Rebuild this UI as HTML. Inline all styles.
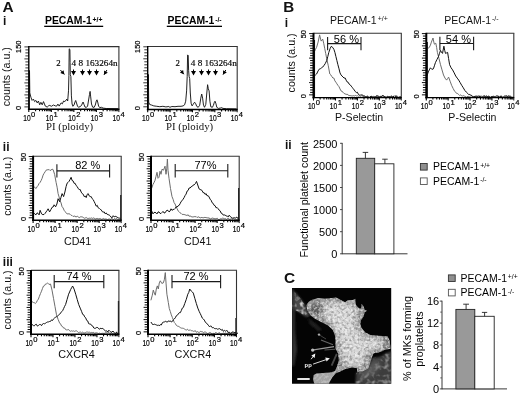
<!DOCTYPE html>
<html lang="en"><head><meta charset="utf-8"><title>PECAM-1 figure</title>
<style>html,body{margin:0;padding:0;background:#fff;}body{width:520px;height:394px;overflow:hidden;}svg{display:block;}.s{font-family:"Liberation Sans", Arial, Helvetica, sans-serif;}.r{font-family:"Liberation Serif", "Times New Roman", serif;}</style></head><body>
<svg width="520" height="394" viewBox="0 0 520 394">
<rect width="520" height="394" fill="#fff"/>
<text class="s" x="2.6" y="11.6" font-size="15.4" text-anchor="start" fill="#111" font-weight="bold">A</text>
<text class="s" x="3.0" y="24.5" font-size="12" text-anchor="start" fill="#111" font-weight="bold">i</text>
<text class="s" x="2.8" y="151.1" font-size="12" text-anchor="start" fill="#111" font-weight="bold">ii</text>
<text class="s" x="2.8" y="265.6" font-size="12" text-anchor="start" fill="#111" font-weight="bold">iii</text>
<text class="s" x="283.2" y="12.2" font-size="15.2" text-anchor="start" fill="#111" font-weight="bold">B</text>
<text class="s" x="284.8" y="26.7" font-size="12" text-anchor="start" fill="#111" font-weight="bold">i</text>
<text class="s" x="285.0" y="148.8" font-size="12" text-anchor="start" fill="#111" font-weight="bold">ii</text>
<text class="s" x="284.0" y="282.9" font-size="15.4" text-anchor="start" fill="#111" font-weight="bold">C</text>
<text class="s" x="45.0" y="24.4" font-size="10.4" font-weight="bold" fill="#000">PECAM-1<tspan font-size="6.9" dx="0.8" dy="-2.5">+/+</tspan></text>
<rect x="44.2" y="25.7" width="59.0" height="1.3" fill="#000"/>
<text class="s" x="167.6" y="24.4" font-size="10.4" font-weight="bold" fill="#000">PECAM-1<tspan font-size="6.9" dx="0.8" dy="-2.5">-/-</tspan></text>
<rect x="166.79999999999998" y="25.7" width="55.2" height="1.3" fill="#000"/>
<text class="s" x="330" y="23.8" font-size="10.5" fill="#111">PECAM-1<tspan font-size="7" dx="1.0" dy="-3.2">+/+</tspan></text>
<text class="s" x="444.3" y="23.8" font-size="10.5" fill="#111">PECAM-1<tspan font-size="7" dx="1.0" dy="-3.2">-/-</tspan></text>
<polyline points="29.4,109.1 29.5,70.5 29.8,92.9 30.9,97.2 32.1,100.4 33.4,99.1 34.6,101.6 35.9,100.4 37.2,102.9 38.4,101.0 39.7,104.8 40.9,102.3 42.2,104.8 43.5,101.6 45.3,106.1 47.2,107.1 48.8,105.6 49.8,105.4 51.3,106.3 53.5,105.0 55.3,105.9 56.7,106.1 57.9,104.1 59.2,106.1 61.1,102.9 62.4,103.8 63.6,101.0 64.9,101.6 66.8,99.1 67.7,101.0 68.5,90.8 68.9,75.6 69.2,48.8 69.9,49.4 70.1,62.4 70.3,74.6 70.9,76.6 71.4,95.9 72.1,104.0 72.9,106.3 74.0,105.0 75.0,102.0 75.7,100.5 76.5,103.0 77.5,106.1 78.5,107.3 80.0,106.6 81.5,105.5 82.5,103.0 83.1,102.0 84.0,104.5 85.0,107.1 86.5,107.3 87.6,106.1 88.6,100.0 89.5,94.4 90.1,91.4 90.7,96.9 91.5,104.0 92.6,107.1 94.1,107.4 95.3,105.0 96.3,101.0 97.0,99.8 97.7,102.0 98.6,106.1 99.7,107.6 101.4,107.3 103.2,108.1 106.2,108.5 118.3,108.7" fill="none" stroke="#161616" stroke-width="0.95" stroke-linejoin="round"/>
<line x1="28.8" y1="46.6" x2="119.4" y2="46.6" stroke="#333" stroke-width="1.1"/>
<line x1="118.9" y1="46.6" x2="118.9" y2="109.2" stroke="#333" stroke-width="1.1"/>
<line x1="28.8" y1="46.1" x2="28.8" y2="110.0" stroke="#000" stroke-width="1.4"/>
<line x1="27.900000000000002" y1="109.2" x2="119.4" y2="109.2" stroke="#000" stroke-width="1.45"/>
<line x1="24.4" y1="46.9" x2="28.8" y2="46.9" stroke="#000" stroke-width="0.8"/>
<line x1="25.4" y1="49.9" x2="28.8" y2="49.9" stroke="#000" stroke-width="0.8"/>
<line x1="25.4" y1="52.9" x2="28.8" y2="52.9" stroke="#000" stroke-width="0.8"/>
<line x1="25.4" y1="55.9" x2="28.8" y2="55.9" stroke="#000" stroke-width="0.8"/>
<line x1="24.4" y1="58.9" x2="28.8" y2="58.9" stroke="#000" stroke-width="0.8"/>
<line x1="25.4" y1="61.9" x2="28.8" y2="61.9" stroke="#000" stroke-width="0.8"/>
<line x1="25.4" y1="64.9" x2="28.8" y2="64.9" stroke="#000" stroke-width="0.8"/>
<line x1="25.4" y1="67.9" x2="28.8" y2="67.9" stroke="#000" stroke-width="0.8"/>
<line x1="24.4" y1="70.9" x2="28.8" y2="70.9" stroke="#000" stroke-width="0.8"/>
<line x1="25.4" y1="73.9" x2="28.8" y2="73.9" stroke="#000" stroke-width="0.8"/>
<line x1="25.4" y1="76.9" x2="28.8" y2="76.9" stroke="#000" stroke-width="0.8"/>
<line x1="25.4" y1="79.9" x2="28.8" y2="79.9" stroke="#000" stroke-width="0.8"/>
<line x1="24.4" y1="82.9" x2="28.8" y2="82.9" stroke="#000" stroke-width="0.8"/>
<line x1="25.4" y1="85.9" x2="28.8" y2="85.9" stroke="#000" stroke-width="0.8"/>
<line x1="25.4" y1="88.9" x2="28.8" y2="88.9" stroke="#000" stroke-width="0.8"/>
<line x1="25.4" y1="91.9" x2="28.8" y2="91.9" stroke="#000" stroke-width="0.8"/>
<line x1="24.4" y1="94.9" x2="28.8" y2="94.9" stroke="#000" stroke-width="0.8"/>
<line x1="25.4" y1="97.9" x2="28.8" y2="97.9" stroke="#000" stroke-width="0.8"/>
<line x1="25.4" y1="100.9" x2="28.8" y2="100.9" stroke="#000" stroke-width="0.8"/>
<line x1="25.4" y1="103.9" x2="28.8" y2="103.9" stroke="#000" stroke-width="0.8"/>
<line x1="24.4" y1="106.9" x2="28.8" y2="106.9" stroke="#000" stroke-width="0.8"/>
<line x1="28.8" y1="109.2" x2="28.8" y2="112.1" stroke="#000" stroke-width="1.1"/>
<line x1="35.58" y1="109.2" x2="35.58" y2="111.2" stroke="#000" stroke-width="1.1"/>
<line x1="39.55" y1="109.2" x2="39.55" y2="111.2" stroke="#000" stroke-width="1.1"/>
<line x1="42.36" y1="109.2" x2="42.36" y2="111.2" stroke="#000" stroke-width="1.1"/>
<line x1="44.54" y1="109.2" x2="44.54" y2="111.2" stroke="#000" stroke-width="1.1"/>
<line x1="46.33" y1="109.2" x2="46.33" y2="111.2" stroke="#000" stroke-width="1.1"/>
<line x1="47.84" y1="109.2" x2="47.84" y2="111.2" stroke="#000" stroke-width="1.1"/>
<line x1="49.14" y1="109.2" x2="49.14" y2="111.2" stroke="#000" stroke-width="1.1"/>
<line x1="50.29" y1="109.2" x2="50.29" y2="111.2" stroke="#000" stroke-width="1.1"/>
<line x1="51.33" y1="109.2" x2="51.33" y2="112.1" stroke="#000" stroke-width="1.1"/>
<line x1="58.11" y1="109.2" x2="58.11" y2="111.2" stroke="#000" stroke-width="1.1"/>
<line x1="62.07" y1="109.2" x2="62.07" y2="111.2" stroke="#000" stroke-width="1.1"/>
<line x1="64.89" y1="109.2" x2="64.89" y2="111.2" stroke="#000" stroke-width="1.1"/>
<line x1="67.07" y1="109.2" x2="67.07" y2="111.2" stroke="#000" stroke-width="1.1"/>
<line x1="68.85" y1="109.2" x2="68.85" y2="111.2" stroke="#000" stroke-width="1.1"/>
<line x1="70.36" y1="109.2" x2="70.36" y2="111.2" stroke="#000" stroke-width="1.1"/>
<line x1="71.67" y1="109.2" x2="71.67" y2="111.2" stroke="#000" stroke-width="1.1"/>
<line x1="72.82" y1="109.2" x2="72.82" y2="111.2" stroke="#000" stroke-width="1.1"/>
<line x1="73.85" y1="109.2" x2="73.85" y2="112.1" stroke="#000" stroke-width="1.1"/>
<line x1="80.63" y1="109.2" x2="80.63" y2="111.2" stroke="#000" stroke-width="1.1"/>
<line x1="84.6" y1="109.2" x2="84.6" y2="111.2" stroke="#000" stroke-width="1.1"/>
<line x1="87.41" y1="109.2" x2="87.41" y2="111.2" stroke="#000" stroke-width="1.1"/>
<line x1="89.59" y1="109.2" x2="89.59" y2="111.2" stroke="#000" stroke-width="1.1"/>
<line x1="91.38" y1="109.2" x2="91.38" y2="111.2" stroke="#000" stroke-width="1.1"/>
<line x1="92.89" y1="109.2" x2="92.89" y2="111.2" stroke="#000" stroke-width="1.1"/>
<line x1="94.19" y1="109.2" x2="94.19" y2="111.2" stroke="#000" stroke-width="1.1"/>
<line x1="95.34" y1="109.2" x2="95.34" y2="111.2" stroke="#000" stroke-width="1.1"/>
<line x1="96.38" y1="109.2" x2="96.38" y2="112.1" stroke="#000" stroke-width="1.1"/>
<line x1="103.16" y1="109.2" x2="103.16" y2="111.2" stroke="#000" stroke-width="1.1"/>
<line x1="107.12" y1="109.2" x2="107.12" y2="111.2" stroke="#000" stroke-width="1.1"/>
<line x1="109.94" y1="109.2" x2="109.94" y2="111.2" stroke="#000" stroke-width="1.1"/>
<line x1="112.12" y1="109.2" x2="112.12" y2="111.2" stroke="#000" stroke-width="1.1"/>
<line x1="113.9" y1="109.2" x2="113.9" y2="111.2" stroke="#000" stroke-width="1.1"/>
<line x1="115.41" y1="109.2" x2="115.41" y2="111.2" stroke="#000" stroke-width="1.1"/>
<line x1="116.72" y1="109.2" x2="116.72" y2="111.2" stroke="#000" stroke-width="1.1"/>
<line x1="117.87" y1="109.2" x2="117.87" y2="111.2" stroke="#000" stroke-width="1.1"/>
<line x1="118.9" y1="109.2" x2="118.9" y2="112.1" stroke="#000" stroke-width="0.9"/>
<text class="s" x="23.2" y="120.7" font-size="8.8" text-anchor="start" fill="#000" stroke="#000" stroke-width="0.2" textLength="7.4" lengthAdjust="spacingAndGlyphs">10</text>
<text class="s" x="31.1" y="117.0" font-size="7.6" text-anchor="start" fill="#000" stroke="#000" stroke-width="0.2">0</text>
<text class="s" x="45.7" y="120.7" font-size="8.8" text-anchor="start" fill="#000" stroke="#000" stroke-width="0.2" textLength="7.4" lengthAdjust="spacingAndGlyphs">10</text>
<text class="s" x="53.6" y="117.0" font-size="7.6" text-anchor="start" fill="#000" stroke="#000" stroke-width="0.2">1</text>
<text class="s" x="68.3" y="120.7" font-size="8.8" text-anchor="start" fill="#000" stroke="#000" stroke-width="0.2" textLength="7.4" lengthAdjust="spacingAndGlyphs">10</text>
<text class="s" x="76.2" y="117.0" font-size="7.6" text-anchor="start" fill="#000" stroke="#000" stroke-width="0.2">2</text>
<text class="s" x="90.8" y="120.7" font-size="8.8" text-anchor="start" fill="#000" stroke="#000" stroke-width="0.2" textLength="7.4" lengthAdjust="spacingAndGlyphs">10</text>
<text class="s" x="98.7" y="117.0" font-size="7.6" text-anchor="start" fill="#000" stroke="#000" stroke-width="0.2">3</text>
<text class="s" x="112.5" y="120.7" font-size="8.8" text-anchor="start" fill="#000" stroke="#000" stroke-width="0.2" textLength="7.4" lengthAdjust="spacingAndGlyphs">10</text>
<text class="s" x="120.4" y="117.0" font-size="7.6" text-anchor="start" fill="#000" stroke="#000" stroke-width="0.2">4</text>
<text class="s" x="20.8" y="46.8" font-size="7.4" text-anchor="middle" fill="#000" transform="rotate(-90 20.8 46.8)" stroke="#000" stroke-width="0.2">150</text>
<text class="s" x="20.8" y="107.9" font-size="7.4" text-anchor="middle" fill="#000" transform="rotate(-90 20.8 107.9)" stroke="#000" stroke-width="0.2">0</text>
<text class="r" x="56.2" y="66.3" font-size="8.8" fill="#000" stroke="#000" stroke-width="0.15">2</text>
<text class="r" x="71.6" y="66.3" font-size="8.8" fill="#000" stroke="#000" stroke-width="0.15" textLength="46" lengthAdjust="spacingAndGlyphs">4 8 163264n</text>
<line x1="60.4" y1="70" x2="64.4" y2="74.4" stroke="#000" stroke-width="1.0"/>
<polygon points="64.4,74.4 60.3,73.1 63.5,70.2" fill="#000"/>
<path d="M73.0 69.4h1v1.6h2.0L73.5 75.5L71.0 71.0h2.0z" fill="#000"/>
<path d="M82.0 69.4h1v1.6h2.0L82.5 75.5L80.0 71.0h2.0z" fill="#000"/>
<path d="M89.0 69.4h1v1.6h2.0L89.5 75.5L87.0 71.0h2.0z" fill="#000"/>
<path d="M96.0 69.4h1v1.6h2.0L96.5 75.5L94.0 71.0h2.0z" fill="#000"/>
<line x1="106.9" y1="70" x2="104" y2="74.8" stroke="#000" stroke-width="1.0"/>
<polygon points="104.0,74.8 104.1,70.5 107.8,72.7" fill="#000"/>
<text class="r" x="69.6" y="130.2" font-size="10.8" text-anchor="middle" fill="#111">PI (ploidy)</text>
<text class="s" x="10.2" y="76.7" font-size="10.7" text-anchor="middle" fill="#111" transform="rotate(-90 10.2 76.7)" textLength="59" lengthAdjust="spacingAndGlyphs">counts (a.u.)</text>
<polyline points="148.3,109.4 148.4,74.5 148.7,102.2 149.7,104.5 151.7,105.1 153.8,105.9 156.8,106.3 159.8,106.7 162.9,106.3 165.9,106.9 168.9,106.5 169.9,107.3 171.9,106.5 175.0,106.7 178.0,106.3 181.0,106.3 183.1,105.9 184.6,104.8 185.7,101.2 186.6,90.9 187.2,76.5 187.6,54.9 188.2,55.5 188.6,70.3 189.1,76.5 189.7,78.6 190.3,93.0 191.1,103.2 192.1,105.9 193.2,104.3 194.6,102.2 195.7,103.7 196.7,106.3 198.2,107.3 199.7,105.3 200.8,98.1 201.7,94.0 202.6,98.1 203.5,105.3 204.5,107.3 205.8,104.3 206.8,93.0 207.6,84.7 208.3,88.8 209.1,90.9 209.9,101.2 210.8,106.8 212.4,107.3 213.4,105.3 214.4,102.2 215.0,101.2 215.8,103.2 216.8,107.3 218.4,108.4 220.4,108.0 221.4,107.6 223.0,108.4 226.5,108.7 236.6,108.9" fill="none" stroke="#161616" stroke-width="0.95" stroke-linejoin="round"/>
<line x1="147.7" y1="46.5" x2="237.7" y2="46.5" stroke="#333" stroke-width="1.1"/>
<line x1="237.2" y1="46.5" x2="237.2" y2="109.4" stroke="#333" stroke-width="1.1"/>
<line x1="147.7" y1="46.0" x2="147.7" y2="110.2" stroke="#000" stroke-width="1.4"/>
<line x1="146.79999999999998" y1="109.4" x2="237.7" y2="109.4" stroke="#000" stroke-width="1.45"/>
<line x1="143.3" y1="46.8" x2="147.7" y2="46.8" stroke="#000" stroke-width="0.8"/>
<line x1="144.3" y1="49.8" x2="147.7" y2="49.8" stroke="#000" stroke-width="0.8"/>
<line x1="144.3" y1="52.8" x2="147.7" y2="52.8" stroke="#000" stroke-width="0.8"/>
<line x1="144.3" y1="55.8" x2="147.7" y2="55.8" stroke="#000" stroke-width="0.8"/>
<line x1="143.3" y1="58.8" x2="147.7" y2="58.8" stroke="#000" stroke-width="0.8"/>
<line x1="144.3" y1="61.8" x2="147.7" y2="61.8" stroke="#000" stroke-width="0.8"/>
<line x1="144.3" y1="64.8" x2="147.7" y2="64.8" stroke="#000" stroke-width="0.8"/>
<line x1="144.3" y1="67.8" x2="147.7" y2="67.8" stroke="#000" stroke-width="0.8"/>
<line x1="143.3" y1="70.8" x2="147.7" y2="70.8" stroke="#000" stroke-width="0.8"/>
<line x1="144.3" y1="73.8" x2="147.7" y2="73.8" stroke="#000" stroke-width="0.8"/>
<line x1="144.3" y1="76.8" x2="147.7" y2="76.8" stroke="#000" stroke-width="0.8"/>
<line x1="144.3" y1="79.8" x2="147.7" y2="79.8" stroke="#000" stroke-width="0.8"/>
<line x1="143.3" y1="82.8" x2="147.7" y2="82.8" stroke="#000" stroke-width="0.8"/>
<line x1="144.3" y1="85.8" x2="147.7" y2="85.8" stroke="#000" stroke-width="0.8"/>
<line x1="144.3" y1="88.8" x2="147.7" y2="88.8" stroke="#000" stroke-width="0.8"/>
<line x1="144.3" y1="91.8" x2="147.7" y2="91.8" stroke="#000" stroke-width="0.8"/>
<line x1="143.3" y1="94.8" x2="147.7" y2="94.8" stroke="#000" stroke-width="0.8"/>
<line x1="144.3" y1="97.8" x2="147.7" y2="97.8" stroke="#000" stroke-width="0.8"/>
<line x1="144.3" y1="100.8" x2="147.7" y2="100.8" stroke="#000" stroke-width="0.8"/>
<line x1="144.3" y1="103.8" x2="147.7" y2="103.8" stroke="#000" stroke-width="0.8"/>
<line x1="143.3" y1="106.8" x2="147.7" y2="106.8" stroke="#000" stroke-width="0.8"/>
<line x1="147.7" y1="109.4" x2="147.7" y2="112.3" stroke="#000" stroke-width="1.1"/>
<line x1="154.44" y1="109.4" x2="154.44" y2="111.4" stroke="#000" stroke-width="1.1"/>
<line x1="158.38" y1="109.4" x2="158.38" y2="111.4" stroke="#000" stroke-width="1.1"/>
<line x1="161.17" y1="109.4" x2="161.17" y2="111.4" stroke="#000" stroke-width="1.1"/>
<line x1="163.34" y1="109.4" x2="163.34" y2="111.4" stroke="#000" stroke-width="1.1"/>
<line x1="165.11" y1="109.4" x2="165.11" y2="111.4" stroke="#000" stroke-width="1.1"/>
<line x1="166.61" y1="109.4" x2="166.61" y2="111.4" stroke="#000" stroke-width="1.1"/>
<line x1="167.91" y1="109.4" x2="167.91" y2="111.4" stroke="#000" stroke-width="1.1"/>
<line x1="169.05" y1="109.4" x2="169.05" y2="111.4" stroke="#000" stroke-width="1.1"/>
<line x1="170.07" y1="109.4" x2="170.07" y2="112.3" stroke="#000" stroke-width="1.1"/>
<line x1="176.81" y1="109.4" x2="176.81" y2="111.4" stroke="#000" stroke-width="1.1"/>
<line x1="180.75" y1="109.4" x2="180.75" y2="111.4" stroke="#000" stroke-width="1.1"/>
<line x1="183.55" y1="109.4" x2="183.55" y2="111.4" stroke="#000" stroke-width="1.1"/>
<line x1="185.71" y1="109.4" x2="185.71" y2="111.4" stroke="#000" stroke-width="1.1"/>
<line x1="187.49" y1="109.4" x2="187.49" y2="111.4" stroke="#000" stroke-width="1.1"/>
<line x1="188.98" y1="109.4" x2="188.98" y2="111.4" stroke="#000" stroke-width="1.1"/>
<line x1="190.28" y1="109.4" x2="190.28" y2="111.4" stroke="#000" stroke-width="1.1"/>
<line x1="191.43" y1="109.4" x2="191.43" y2="111.4" stroke="#000" stroke-width="1.1"/>
<line x1="192.45" y1="109.4" x2="192.45" y2="112.3" stroke="#000" stroke-width="1.1"/>
<line x1="199.19" y1="109.4" x2="199.19" y2="111.4" stroke="#000" stroke-width="1.1"/>
<line x1="203.13" y1="109.4" x2="203.13" y2="111.4" stroke="#000" stroke-width="1.1"/>
<line x1="205.92" y1="109.4" x2="205.92" y2="111.4" stroke="#000" stroke-width="1.1"/>
<line x1="208.09" y1="109.4" x2="208.09" y2="111.4" stroke="#000" stroke-width="1.1"/>
<line x1="209.86" y1="109.4" x2="209.86" y2="111.4" stroke="#000" stroke-width="1.1"/>
<line x1="211.36" y1="109.4" x2="211.36" y2="111.4" stroke="#000" stroke-width="1.1"/>
<line x1="212.66" y1="109.4" x2="212.66" y2="111.4" stroke="#000" stroke-width="1.1"/>
<line x1="213.8" y1="109.4" x2="213.8" y2="111.4" stroke="#000" stroke-width="1.1"/>
<line x1="214.82" y1="109.4" x2="214.82" y2="112.3" stroke="#000" stroke-width="1.1"/>
<line x1="221.56" y1="109.4" x2="221.56" y2="111.4" stroke="#000" stroke-width="1.1"/>
<line x1="225.5" y1="109.4" x2="225.5" y2="111.4" stroke="#000" stroke-width="1.1"/>
<line x1="228.3" y1="109.4" x2="228.3" y2="111.4" stroke="#000" stroke-width="1.1"/>
<line x1="230.46" y1="109.4" x2="230.46" y2="111.4" stroke="#000" stroke-width="1.1"/>
<line x1="232.24" y1="109.4" x2="232.24" y2="111.4" stroke="#000" stroke-width="1.1"/>
<line x1="233.73" y1="109.4" x2="233.73" y2="111.4" stroke="#000" stroke-width="1.1"/>
<line x1="235.03" y1="109.4" x2="235.03" y2="111.4" stroke="#000" stroke-width="1.1"/>
<line x1="236.18" y1="109.4" x2="236.18" y2="111.4" stroke="#000" stroke-width="1.1"/>
<line x1="237.2" y1="109.4" x2="237.2" y2="112.3" stroke="#000" stroke-width="0.9"/>
<text class="s" x="142.1" y="120.9" font-size="8.8" text-anchor="start" fill="#000" stroke="#000" stroke-width="0.2" textLength="7.4" lengthAdjust="spacingAndGlyphs">10</text>
<text class="s" x="150.0" y="117.2" font-size="7.6" text-anchor="start" fill="#000" stroke="#000" stroke-width="0.2">0</text>
<text class="s" x="164.5" y="120.9" font-size="8.8" text-anchor="start" fill="#000" stroke="#000" stroke-width="0.2" textLength="7.4" lengthAdjust="spacingAndGlyphs">10</text>
<text class="s" x="172.4" y="117.2" font-size="7.6" text-anchor="start" fill="#000" stroke="#000" stroke-width="0.2">1</text>
<text class="s" x="186.8" y="120.9" font-size="8.8" text-anchor="start" fill="#000" stroke="#000" stroke-width="0.2" textLength="7.4" lengthAdjust="spacingAndGlyphs">10</text>
<text class="s" x="194.8" y="117.2" font-size="7.6" text-anchor="start" fill="#000" stroke="#000" stroke-width="0.2">2</text>
<text class="s" x="209.2" y="120.9" font-size="8.8" text-anchor="start" fill="#000" stroke="#000" stroke-width="0.2" textLength="7.4" lengthAdjust="spacingAndGlyphs">10</text>
<text class="s" x="217.1" y="117.2" font-size="7.6" text-anchor="start" fill="#000" stroke="#000" stroke-width="0.2">3</text>
<text class="s" x="230.8" y="120.9" font-size="8.8" text-anchor="start" fill="#000" stroke="#000" stroke-width="0.2" textLength="7.4" lengthAdjust="spacingAndGlyphs">10</text>
<text class="s" x="238.7" y="117.2" font-size="7.6" text-anchor="start" fill="#000" stroke="#000" stroke-width="0.2">4</text>
<text class="s" x="139.7" y="46.7" font-size="7.4" text-anchor="middle" fill="#000" transform="rotate(-90 139.7 46.7)" stroke="#000" stroke-width="0.2">150</text>
<text class="s" x="139.7" y="108.1" font-size="7.4" text-anchor="middle" fill="#000" transform="rotate(-90 139.7 108.1)" stroke="#000" stroke-width="0.2">0</text>
<text class="r" x="175.6" y="66.3" font-size="8.8" fill="#000" stroke="#000" stroke-width="0.15">2</text>
<text class="r" x="190.8" y="66.3" font-size="8.8" fill="#000" stroke="#000" stroke-width="0.15" textLength="46" lengthAdjust="spacingAndGlyphs">4 8 163264n</text>
<line x1="180.4" y1="70" x2="183.8" y2="74.2" stroke="#000" stroke-width="1.0"/>
<polygon points="183.8,74.2 179.8,72.6 183.1,70.0" fill="#000"/>
<path d="M193.0 69.4h1v1.6h2.0L193.5 75.5L191.0 71.0h2.0z" fill="#000"/>
<path d="M201.0 69.4h1v1.6h2.0L201.5 75.5L199.0 71.0h2.0z" fill="#000"/>
<path d="M208.0 69.4h1v1.6h2.0L208.5 75.5L206.0 71.0h2.0z" fill="#000"/>
<path d="M215.0 69.4h1v1.6h2.0L215.5 75.5L213.0 71.0h2.0z" fill="#000"/>
<line x1="225.8" y1="70" x2="223" y2="74.6" stroke="#000" stroke-width="1.0"/>
<polygon points="223.0,74.6 223.1,70.3 226.8,72.5" fill="#000"/>
<text class="r" x="189.6" y="130.2" font-size="10.8" text-anchor="middle" fill="#111">PI (ploidy)</text>
<polyline points="33.7,186.5 35.1,187.7 36.1,188.5 37.1,186.7 38.1,185.5 39.1,183.4 40.1,182.4 41.1,180.6 42.1,178.3 43.1,175.1 44.1,173.3 45.1,171.8 46.1,170.2 47.1,169.8 48.1,169.8 49.1,169.5 50.1,170.6 51.1,169.9 52.1,169.2 53.1,169.6 54.6,174.3 56.1,182.4 57.1,187.2 58.1,193.6 59.1,197.0 60.1,200.7 61.1,203.0 62.1,206.8 63.1,207.9 64.1,210.3 65.1,211.5 66.1,212.9 67.1,213.9 68.1,213.9 69.1,213.7 70.1,214.3 71.1,215.3 72.1,215.5 73.1,216.5 74.1,216.1 75.1,216.1 76.1,217.2 77.2,216.0 78.2,216.9 79.2,217.7 80.2,216.9 81.2,216.8 82.2,216.9 83.2,217.4 84.2,218.3 85.2,218.0 86.2,217.5 87.2,218.3 88.2,218.5 89.2,218.1 90.2,218.5 91.2,217.8 92.2,218.6 93.2,217.9 94.2,218.2 95.2,219.0 96.2,218.6 97.2,218.4 98.2,218.9 99.2,218.7 100.2,218.5 101.2,219.3 102.2,219.2 103.2,218.5 104.2,219.1 105.2,219.0 106.2,219.0 107.3,219.6 108.3,219.4 109.3,218.7 110.4,219.8 111.4,218.4 112.4,218.9 113.5,219.5 114.5,218.5 115.5,219.1 116.6,218.4 117.6,219.4 118.6,219.6 119.7,219.3 120.7,219.2" fill="none" stroke="#6c6c6c" stroke-width="1.0" stroke-linejoin="round"/>
<polyline points="33.7,212.9 35.1,214.4 36.1,214.7 37.1,212.9 38.1,213.4 39.1,214.9 40.1,210.3 41.6,213.9 42.9,214.7 44.1,214.4 45.1,213.4 46.1,211.9 47.1,210.6 48.1,208.8 49.6,211.9 50.9,209.5 52.1,207.3 53.1,207.0 54.1,204.8 55.6,206.8 56.9,204.0 58.1,198.7 59.6,201.7 60.9,197.6 62.1,193.6 63.6,196.6 64.9,192.0 66.1,186.5 67.1,183.2 68.1,182.4 69.1,181.3 70.1,179.4 71.1,177.3 72.1,180.5 73.1,180.9 74.1,183.3 75.1,183.3 76.1,185.5 77.2,186.5 78.2,188.6 79.2,189.5 80.2,189.5 81.2,192.1 82.2,193.6 83.2,194.2 84.2,196.6 85.2,196.1 86.2,197.6 87.2,194.4 88.2,193.6 89.2,195.9 90.2,196.6 91.2,196.6 92.2,198.7 93.2,199.6 94.2,201.7 95.2,203.7 96.2,206.2 97.2,205.3 98.2,207.8 99.2,208.3 100.2,209.3 101.2,209.8 102.2,211.6 103.2,212.1 104.2,211.9 105.2,213.8 106.2,212.9 107.2,214.4 108.2,214.7 109.2,215.0 110.2,215.9 111.2,217.3 112.2,217.7 113.2,215.7 114.2,216.9 115.2,216.3 116.2,216.7 117.2,217.0 118.2,218.0 119.4,218.1 120.7,218.4" fill="none" stroke="#111" stroke-width="1.0" stroke-linejoin="round"/>
<line x1="120.8" y1="195" x2="120.8" y2="220.2" stroke="#111" stroke-width="1.3"/>
<line x1="33.1" y1="156.2" x2="121.7" y2="156.2" stroke="#333" stroke-width="1.1"/>
<line x1="121.2" y1="156.2" x2="121.2" y2="220.2" stroke="#333" stroke-width="1.1"/>
<line x1="33.1" y1="155.7" x2="33.1" y2="221.0" stroke="#000" stroke-width="2.0"/>
<line x1="32.2" y1="220.2" x2="121.7" y2="220.2" stroke="#000" stroke-width="1.45"/>
<line x1="28.7" y1="156.5" x2="33.1" y2="156.5" stroke="#000" stroke-width="0.95"/>
<line x1="29.7" y1="158.95" x2="33.1" y2="158.95" stroke="#000" stroke-width="0.95"/>
<line x1="29.7" y1="161.4" x2="33.1" y2="161.4" stroke="#000" stroke-width="0.95"/>
<line x1="29.7" y1="163.85" x2="33.1" y2="163.85" stroke="#000" stroke-width="0.95"/>
<line x1="29.7" y1="166.3" x2="33.1" y2="166.3" stroke="#000" stroke-width="0.95"/>
<line x1="28.7" y1="168.75" x2="33.1" y2="168.75" stroke="#000" stroke-width="0.95"/>
<line x1="29.7" y1="171.2" x2="33.1" y2="171.2" stroke="#000" stroke-width="0.95"/>
<line x1="29.7" y1="173.65" x2="33.1" y2="173.65" stroke="#000" stroke-width="0.95"/>
<line x1="29.7" y1="176.1" x2="33.1" y2="176.1" stroke="#000" stroke-width="0.95"/>
<line x1="29.7" y1="178.55" x2="33.1" y2="178.55" stroke="#000" stroke-width="0.95"/>
<line x1="28.7" y1="181.0" x2="33.1" y2="181.0" stroke="#000" stroke-width="0.95"/>
<line x1="29.7" y1="183.45" x2="33.1" y2="183.45" stroke="#000" stroke-width="0.95"/>
<line x1="29.7" y1="185.9" x2="33.1" y2="185.9" stroke="#000" stroke-width="0.95"/>
<line x1="29.7" y1="188.35" x2="33.1" y2="188.35" stroke="#000" stroke-width="0.95"/>
<line x1="29.7" y1="190.8" x2="33.1" y2="190.8" stroke="#000" stroke-width="0.95"/>
<line x1="28.7" y1="193.25" x2="33.1" y2="193.25" stroke="#000" stroke-width="0.95"/>
<line x1="29.7" y1="195.7" x2="33.1" y2="195.7" stroke="#000" stroke-width="0.95"/>
<line x1="29.7" y1="198.15" x2="33.1" y2="198.15" stroke="#000" stroke-width="0.95"/>
<line x1="29.7" y1="200.6" x2="33.1" y2="200.6" stroke="#000" stroke-width="0.95"/>
<line x1="29.7" y1="203.05" x2="33.1" y2="203.05" stroke="#000" stroke-width="0.95"/>
<line x1="28.7" y1="205.5" x2="33.1" y2="205.5" stroke="#000" stroke-width="0.95"/>
<line x1="29.7" y1="207.95" x2="33.1" y2="207.95" stroke="#000" stroke-width="0.95"/>
<line x1="29.7" y1="210.4" x2="33.1" y2="210.4" stroke="#000" stroke-width="0.95"/>
<line x1="29.7" y1="212.85" x2="33.1" y2="212.85" stroke="#000" stroke-width="0.95"/>
<line x1="29.7" y1="215.3" x2="33.1" y2="215.3" stroke="#000" stroke-width="0.95"/>
<line x1="28.7" y1="217.75" x2="33.1" y2="217.75" stroke="#000" stroke-width="0.95"/>
<line x1="33.1" y1="220.2" x2="33.1" y2="223.1" stroke="#000" stroke-width="1.1"/>
<line x1="39.73" y1="220.2" x2="39.73" y2="222.2" stroke="#000" stroke-width="1.1"/>
<line x1="43.61" y1="220.2" x2="43.61" y2="222.2" stroke="#000" stroke-width="1.1"/>
<line x1="46.36" y1="220.2" x2="46.36" y2="222.2" stroke="#000" stroke-width="1.1"/>
<line x1="48.49" y1="220.2" x2="48.49" y2="222.2" stroke="#000" stroke-width="1.1"/>
<line x1="50.24" y1="220.2" x2="50.24" y2="222.2" stroke="#000" stroke-width="1.1"/>
<line x1="51.71" y1="220.2" x2="51.71" y2="222.2" stroke="#000" stroke-width="1.1"/>
<line x1="52.99" y1="220.2" x2="52.99" y2="222.2" stroke="#000" stroke-width="1.1"/>
<line x1="54.12" y1="220.2" x2="54.12" y2="222.2" stroke="#000" stroke-width="1.1"/>
<line x1="55.12" y1="220.2" x2="55.12" y2="223.1" stroke="#000" stroke-width="1.1"/>
<line x1="61.76" y1="220.2" x2="61.76" y2="222.2" stroke="#000" stroke-width="1.1"/>
<line x1="65.63" y1="220.2" x2="65.63" y2="222.2" stroke="#000" stroke-width="1.1"/>
<line x1="68.39" y1="220.2" x2="68.39" y2="222.2" stroke="#000" stroke-width="1.1"/>
<line x1="70.52" y1="220.2" x2="70.52" y2="222.2" stroke="#000" stroke-width="1.1"/>
<line x1="72.26" y1="220.2" x2="72.26" y2="222.2" stroke="#000" stroke-width="1.1"/>
<line x1="73.74" y1="220.2" x2="73.74" y2="222.2" stroke="#000" stroke-width="1.1"/>
<line x1="75.02" y1="220.2" x2="75.02" y2="222.2" stroke="#000" stroke-width="1.1"/>
<line x1="76.14" y1="220.2" x2="76.14" y2="222.2" stroke="#000" stroke-width="1.1"/>
<line x1="77.15" y1="220.2" x2="77.15" y2="223.1" stroke="#000" stroke-width="1.1"/>
<line x1="83.78" y1="220.2" x2="83.78" y2="222.2" stroke="#000" stroke-width="1.1"/>
<line x1="87.66" y1="220.2" x2="87.66" y2="222.2" stroke="#000" stroke-width="1.1"/>
<line x1="90.41" y1="220.2" x2="90.41" y2="222.2" stroke="#000" stroke-width="1.1"/>
<line x1="92.54" y1="220.2" x2="92.54" y2="222.2" stroke="#000" stroke-width="1.1"/>
<line x1="94.29" y1="220.2" x2="94.29" y2="222.2" stroke="#000" stroke-width="1.1"/>
<line x1="95.76" y1="220.2" x2="95.76" y2="222.2" stroke="#000" stroke-width="1.1"/>
<line x1="97.04" y1="220.2" x2="97.04" y2="222.2" stroke="#000" stroke-width="1.1"/>
<line x1="98.17" y1="220.2" x2="98.17" y2="222.2" stroke="#000" stroke-width="1.1"/>
<line x1="99.17" y1="220.2" x2="99.17" y2="223.1" stroke="#000" stroke-width="1.1"/>
<line x1="105.81" y1="220.2" x2="105.81" y2="222.2" stroke="#000" stroke-width="1.1"/>
<line x1="109.68" y1="220.2" x2="109.68" y2="222.2" stroke="#000" stroke-width="1.1"/>
<line x1="112.44" y1="220.2" x2="112.44" y2="222.2" stroke="#000" stroke-width="1.1"/>
<line x1="114.57" y1="220.2" x2="114.57" y2="222.2" stroke="#000" stroke-width="1.1"/>
<line x1="116.31" y1="220.2" x2="116.31" y2="222.2" stroke="#000" stroke-width="1.1"/>
<line x1="117.79" y1="220.2" x2="117.79" y2="222.2" stroke="#000" stroke-width="1.1"/>
<line x1="119.07" y1="220.2" x2="119.07" y2="222.2" stroke="#000" stroke-width="1.1"/>
<line x1="120.19" y1="220.2" x2="120.19" y2="222.2" stroke="#000" stroke-width="1.1"/>
<line x1="121.2" y1="220.2" x2="121.2" y2="223.1" stroke="#000" stroke-width="0.9"/>
<text class="s" x="27.5" y="231.7" font-size="8.8" text-anchor="start" fill="#000" stroke="#000" stroke-width="0.2" textLength="7.4" lengthAdjust="spacingAndGlyphs">10</text>
<text class="s" x="35.4" y="228.0" font-size="7.6" text-anchor="start" fill="#000" stroke="#000" stroke-width="0.2">0</text>
<text class="s" x="49.5" y="231.7" font-size="8.8" text-anchor="start" fill="#000" stroke="#000" stroke-width="0.2" textLength="7.4" lengthAdjust="spacingAndGlyphs">10</text>
<text class="s" x="57.4" y="228.0" font-size="7.6" text-anchor="start" fill="#000" stroke="#000" stroke-width="0.2">1</text>
<text class="s" x="71.6" y="231.7" font-size="8.8" text-anchor="start" fill="#000" stroke="#000" stroke-width="0.2" textLength="7.4" lengthAdjust="spacingAndGlyphs">10</text>
<text class="s" x="79.5" y="228.0" font-size="7.6" text-anchor="start" fill="#000" stroke="#000" stroke-width="0.2">2</text>
<text class="s" x="93.6" y="231.7" font-size="8.8" text-anchor="start" fill="#000" stroke="#000" stroke-width="0.2" textLength="7.4" lengthAdjust="spacingAndGlyphs">10</text>
<text class="s" x="101.5" y="228.0" font-size="7.6" text-anchor="start" fill="#000" stroke="#000" stroke-width="0.2">3</text>
<text class="s" x="114.8" y="231.7" font-size="8.8" text-anchor="start" fill="#000" stroke="#000" stroke-width="0.2" textLength="7.4" lengthAdjust="spacingAndGlyphs">10</text>
<text class="s" x="122.7" y="228.0" font-size="7.6" text-anchor="start" fill="#000" stroke="#000" stroke-width="0.2">4</text>
<text class="s" x="26.0" y="157.1" font-size="7.4" text-anchor="middle" fill="#000" transform="rotate(-90 26.0 157.1)" stroke="#000" stroke-width="0.2">50</text>
<text class="s" x="26.0" y="218.9" font-size="7.4" text-anchor="middle" fill="#000" transform="rotate(-90 26.0 218.9)" stroke="#000" stroke-width="0.2">0</text>
<line x1="56.9" y1="170.9" x2="109.6" y2="170.9" stroke="#1a1a1a" stroke-width="1.1"/>
<line x1="56.9" y1="164.20000000000002" x2="56.9" y2="177.6" stroke="#1a1a1a" stroke-width="1.1"/>
<line x1="109.6" y1="164.20000000000002" x2="109.6" y2="177.6" stroke="#1a1a1a" stroke-width="1.1"/>
<text class="s" x="87.8" y="169.1" font-size="11.0" text-anchor="middle" fill="#000">82 %</text>
<text class="s" x="77.6" y="244.8" font-size="10.7" text-anchor="middle" fill="#111">CD41</text>
<text class="s" x="11.4" y="186.2" font-size="10.7" text-anchor="middle" fill="#111" transform="rotate(-90 11.4 186.2)" textLength="59" lengthAdjust="spacingAndGlyphs">counts (a.u.)</text>
<polyline points="151.6,188.5 153.0,184.4 154.0,182.6 155.0,180.4 156.0,176.3 157.0,172.3 158.0,178.3 159.0,177.3 160.0,171.2 161.0,174.3 162.0,169.2 163.5,170.2 165.0,166.2 166.0,174.3 166.8,168.2 167.4,159.0 168.0,170.2 169.0,178.3 170.5,188.5 172.0,196.6 173.1,199.3 174.1,202.7 175.1,204.0 176.1,206.8 177.1,208.7 178.1,210.9 179.1,211.7 180.1,212.9 181.1,213.4 182.1,214.4 183.1,214.4 184.1,214.5 185.1,214.8 186.1,215.2 187.1,215.5 188.1,214.7 189.1,216.3 190.1,215.9 191.1,216.6 192.1,216.9 193.1,217.0 194.1,216.6 195.1,216.8 196.1,216.5 197.1,217.6 198.1,216.8 199.1,217.1 200.1,218.0 201.1,217.5 202.1,217.5 203.1,217.9 204.1,217.5 205.1,217.4 206.1,217.7 207.1,217.7 208.1,218.2 209.1,217.7 210.1,219.1 211.1,218.7 212.1,218.0 213.1,218.3 214.1,218.5 215.1,218.8 216.2,218.6 217.2,218.2 218.2,219.4 219.2,219.6 220.3,218.8 221.3,218.9 222.3,218.2 223.3,218.3 224.4,218.7 225.4,218.6 226.4,219.5 227.4,218.4 228.5,218.2 229.5,219.8 230.5,219.1 231.5,218.5 232.6,219.1 233.6,218.3 234.6,219.2 235.6,219.9 236.7,219.7 237.7,219.5 238.7,219.2" fill="none" stroke="#6c6c6c" stroke-width="1.0" stroke-linejoin="round"/>
<polyline points="151.6,210.9 153.0,213.9 154.0,212.5 155.0,212.4 156.0,212.8 157.0,213.9 158.0,212.0 159.0,211.9 160.0,213.4 161.0,213.5 162.0,212.5 163.0,211.4 164.0,212.9 165.0,212.9 166.0,211.2 167.0,210.3 168.0,210.4 169.0,211.9 170.0,211.2 171.0,208.8 172.0,210.4 173.1,209.4 174.1,209.5 175.1,208.5 176.1,206.8 177.1,207.1 178.1,205.8 179.1,205.4 180.1,203.7 181.1,201.5 182.1,200.7 183.1,199.2 184.1,197.6 185.1,195.5 186.1,194.1 187.1,191.1 188.1,190.5 189.1,188.0 190.1,188.0 191.1,186.7 192.1,186.5 193.1,185.1 194.1,184.9 195.3,183.7 196.5,181.4 198.1,186.0 199.1,188.9 200.1,189.5 201.1,189.9 202.1,190.5 203.1,192.7 204.1,192.6 205.1,194.4 206.1,193.6 207.1,195.8 208.1,195.6 209.1,197.0 210.1,199.2 211.1,200.2 212.1,202.7 213.1,203.3 214.1,205.3 215.1,205.7 216.1,207.8 217.1,207.5 218.2,208.8 219.2,210.2 220.2,210.9 221.2,213.2 222.2,213.5 223.2,215.1 224.2,214.9 225.2,215.2 226.2,216.0 227.2,215.9 228.2,216.9 229.2,215.2 230.2,216.5 231.2,217.2 232.2,218.1 233.2,218.1 234.2,217.6 235.1,218.3 236.0,217.7 236.9,217.0 237.8,218.6 238.7,218.0" fill="none" stroke="#111" stroke-width="1.0" stroke-linejoin="round"/>
<line x1="238.7" y1="188" x2="238.7" y2="220.2" stroke="#111" stroke-width="1.3"/>
<line x1="151" y1="156.2" x2="239.7" y2="156.2" stroke="#333" stroke-width="1.1"/>
<line x1="239.2" y1="156.2" x2="239.2" y2="220.2" stroke="#333" stroke-width="1.1"/>
<line x1="151" y1="155.7" x2="151" y2="221.0" stroke="#000" stroke-width="2.0"/>
<line x1="150.1" y1="220.2" x2="239.7" y2="220.2" stroke="#000" stroke-width="1.45"/>
<line x1="146.6" y1="156.5" x2="151" y2="156.5" stroke="#000" stroke-width="0.95"/>
<line x1="147.6" y1="158.95" x2="151" y2="158.95" stroke="#000" stroke-width="0.95"/>
<line x1="147.6" y1="161.4" x2="151" y2="161.4" stroke="#000" stroke-width="0.95"/>
<line x1="147.6" y1="163.85" x2="151" y2="163.85" stroke="#000" stroke-width="0.95"/>
<line x1="147.6" y1="166.3" x2="151" y2="166.3" stroke="#000" stroke-width="0.95"/>
<line x1="146.6" y1="168.75" x2="151" y2="168.75" stroke="#000" stroke-width="0.95"/>
<line x1="147.6" y1="171.2" x2="151" y2="171.2" stroke="#000" stroke-width="0.95"/>
<line x1="147.6" y1="173.65" x2="151" y2="173.65" stroke="#000" stroke-width="0.95"/>
<line x1="147.6" y1="176.1" x2="151" y2="176.1" stroke="#000" stroke-width="0.95"/>
<line x1="147.6" y1="178.55" x2="151" y2="178.55" stroke="#000" stroke-width="0.95"/>
<line x1="146.6" y1="181.0" x2="151" y2="181.0" stroke="#000" stroke-width="0.95"/>
<line x1="147.6" y1="183.45" x2="151" y2="183.45" stroke="#000" stroke-width="0.95"/>
<line x1="147.6" y1="185.9" x2="151" y2="185.9" stroke="#000" stroke-width="0.95"/>
<line x1="147.6" y1="188.35" x2="151" y2="188.35" stroke="#000" stroke-width="0.95"/>
<line x1="147.6" y1="190.8" x2="151" y2="190.8" stroke="#000" stroke-width="0.95"/>
<line x1="146.6" y1="193.25" x2="151" y2="193.25" stroke="#000" stroke-width="0.95"/>
<line x1="147.6" y1="195.7" x2="151" y2="195.7" stroke="#000" stroke-width="0.95"/>
<line x1="147.6" y1="198.15" x2="151" y2="198.15" stroke="#000" stroke-width="0.95"/>
<line x1="147.6" y1="200.6" x2="151" y2="200.6" stroke="#000" stroke-width="0.95"/>
<line x1="147.6" y1="203.05" x2="151" y2="203.05" stroke="#000" stroke-width="0.95"/>
<line x1="146.6" y1="205.5" x2="151" y2="205.5" stroke="#000" stroke-width="0.95"/>
<line x1="147.6" y1="207.95" x2="151" y2="207.95" stroke="#000" stroke-width="0.95"/>
<line x1="147.6" y1="210.4" x2="151" y2="210.4" stroke="#000" stroke-width="0.95"/>
<line x1="147.6" y1="212.85" x2="151" y2="212.85" stroke="#000" stroke-width="0.95"/>
<line x1="147.6" y1="215.3" x2="151" y2="215.3" stroke="#000" stroke-width="0.95"/>
<line x1="146.6" y1="217.75" x2="151" y2="217.75" stroke="#000" stroke-width="0.95"/>
<line x1="151.0" y1="220.2" x2="151.0" y2="223.1" stroke="#000" stroke-width="1.1"/>
<line x1="157.64" y1="220.2" x2="157.64" y2="222.2" stroke="#000" stroke-width="1.1"/>
<line x1="161.52" y1="220.2" x2="161.52" y2="222.2" stroke="#000" stroke-width="1.1"/>
<line x1="164.28" y1="220.2" x2="164.28" y2="222.2" stroke="#000" stroke-width="1.1"/>
<line x1="166.41" y1="220.2" x2="166.41" y2="222.2" stroke="#000" stroke-width="1.1"/>
<line x1="168.16" y1="220.2" x2="168.16" y2="222.2" stroke="#000" stroke-width="1.1"/>
<line x1="169.63" y1="220.2" x2="169.63" y2="222.2" stroke="#000" stroke-width="1.1"/>
<line x1="170.91" y1="220.2" x2="170.91" y2="222.2" stroke="#000" stroke-width="1.1"/>
<line x1="172.04" y1="220.2" x2="172.04" y2="222.2" stroke="#000" stroke-width="1.1"/>
<line x1="173.05" y1="220.2" x2="173.05" y2="223.1" stroke="#000" stroke-width="1.1"/>
<line x1="179.69" y1="220.2" x2="179.69" y2="222.2" stroke="#000" stroke-width="1.1"/>
<line x1="183.57" y1="220.2" x2="183.57" y2="222.2" stroke="#000" stroke-width="1.1"/>
<line x1="186.33" y1="220.2" x2="186.33" y2="222.2" stroke="#000" stroke-width="1.1"/>
<line x1="188.46" y1="220.2" x2="188.46" y2="222.2" stroke="#000" stroke-width="1.1"/>
<line x1="190.21" y1="220.2" x2="190.21" y2="222.2" stroke="#000" stroke-width="1.1"/>
<line x1="191.68" y1="220.2" x2="191.68" y2="222.2" stroke="#000" stroke-width="1.1"/>
<line x1="192.96" y1="220.2" x2="192.96" y2="222.2" stroke="#000" stroke-width="1.1"/>
<line x1="194.09" y1="220.2" x2="194.09" y2="222.2" stroke="#000" stroke-width="1.1"/>
<line x1="195.1" y1="220.2" x2="195.1" y2="223.1" stroke="#000" stroke-width="1.1"/>
<line x1="201.74" y1="220.2" x2="201.74" y2="222.2" stroke="#000" stroke-width="1.1"/>
<line x1="205.62" y1="220.2" x2="205.62" y2="222.2" stroke="#000" stroke-width="1.1"/>
<line x1="208.38" y1="220.2" x2="208.38" y2="222.2" stroke="#000" stroke-width="1.1"/>
<line x1="210.51" y1="220.2" x2="210.51" y2="222.2" stroke="#000" stroke-width="1.1"/>
<line x1="212.26" y1="220.2" x2="212.26" y2="222.2" stroke="#000" stroke-width="1.1"/>
<line x1="213.73" y1="220.2" x2="213.73" y2="222.2" stroke="#000" stroke-width="1.1"/>
<line x1="215.01" y1="220.2" x2="215.01" y2="222.2" stroke="#000" stroke-width="1.1"/>
<line x1="216.14" y1="220.2" x2="216.14" y2="222.2" stroke="#000" stroke-width="1.1"/>
<line x1="217.15" y1="220.2" x2="217.15" y2="223.1" stroke="#000" stroke-width="1.1"/>
<line x1="223.79" y1="220.2" x2="223.79" y2="222.2" stroke="#000" stroke-width="1.1"/>
<line x1="227.67" y1="220.2" x2="227.67" y2="222.2" stroke="#000" stroke-width="1.1"/>
<line x1="230.43" y1="220.2" x2="230.43" y2="222.2" stroke="#000" stroke-width="1.1"/>
<line x1="232.56" y1="220.2" x2="232.56" y2="222.2" stroke="#000" stroke-width="1.1"/>
<line x1="234.31" y1="220.2" x2="234.31" y2="222.2" stroke="#000" stroke-width="1.1"/>
<line x1="235.78" y1="220.2" x2="235.78" y2="222.2" stroke="#000" stroke-width="1.1"/>
<line x1="237.06" y1="220.2" x2="237.06" y2="222.2" stroke="#000" stroke-width="1.1"/>
<line x1="238.19" y1="220.2" x2="238.19" y2="222.2" stroke="#000" stroke-width="1.1"/>
<line x1="239.2" y1="220.2" x2="239.2" y2="223.1" stroke="#000" stroke-width="0.9"/>
<text class="s" x="145.4" y="231.7" font-size="8.8" text-anchor="start" fill="#000" stroke="#000" stroke-width="0.2" textLength="7.4" lengthAdjust="spacingAndGlyphs">10</text>
<text class="s" x="153.3" y="228.0" font-size="7.6" text-anchor="start" fill="#000" stroke="#000" stroke-width="0.2">0</text>
<text class="s" x="167.5" y="231.7" font-size="8.8" text-anchor="start" fill="#000" stroke="#000" stroke-width="0.2" textLength="7.4" lengthAdjust="spacingAndGlyphs">10</text>
<text class="s" x="175.4" y="228.0" font-size="7.6" text-anchor="start" fill="#000" stroke="#000" stroke-width="0.2">1</text>
<text class="s" x="189.5" y="231.7" font-size="8.8" text-anchor="start" fill="#000" stroke="#000" stroke-width="0.2" textLength="7.4" lengthAdjust="spacingAndGlyphs">10</text>
<text class="s" x="197.4" y="228.0" font-size="7.6" text-anchor="start" fill="#000" stroke="#000" stroke-width="0.2">2</text>
<text class="s" x="211.5" y="231.7" font-size="8.8" text-anchor="start" fill="#000" stroke="#000" stroke-width="0.2" textLength="7.4" lengthAdjust="spacingAndGlyphs">10</text>
<text class="s" x="219.4" y="228.0" font-size="7.6" text-anchor="start" fill="#000" stroke="#000" stroke-width="0.2">3</text>
<text class="s" x="232.8" y="231.7" font-size="8.8" text-anchor="start" fill="#000" stroke="#000" stroke-width="0.2" textLength="7.4" lengthAdjust="spacingAndGlyphs">10</text>
<text class="s" x="240.7" y="228.0" font-size="7.6" text-anchor="start" fill="#000" stroke="#000" stroke-width="0.2">4</text>
<text class="s" x="143.9" y="157.1" font-size="7.4" text-anchor="middle" fill="#000" transform="rotate(-90 143.9 157.1)" stroke="#000" stroke-width="0.2">50</text>
<text class="s" x="143.9" y="218.9" font-size="7.4" text-anchor="middle" fill="#000" transform="rotate(-90 143.9 218.9)" stroke="#000" stroke-width="0.2">0</text>
<line x1="175.2" y1="170.8" x2="227.8" y2="170.8" stroke="#1a1a1a" stroke-width="1.1"/>
<line x1="175.2" y1="164.10000000000002" x2="175.2" y2="177.5" stroke="#1a1a1a" stroke-width="1.1"/>
<line x1="227.8" y1="164.10000000000002" x2="227.8" y2="177.5" stroke="#1a1a1a" stroke-width="1.1"/>
<text class="s" x="205.5" y="169.0" font-size="11.0" text-anchor="middle" fill="#000">77%</text>
<text class="s" x="197.7" y="244.8" font-size="10.7" text-anchor="middle" fill="#111">CD41</text>
<polyline points="31.6,301.4 33.4,302.5 34.4,302.7 35.4,303.5 36.4,302.4 37.4,300.4 38.4,299.1 39.4,296.3 40.5,293.5 41.5,291.2 42.5,288.4 43.5,286.0 44.5,285.7 45.5,284.0 46.5,283.8 47.5,282.9 49.0,284.5 50.5,284.0 52.0,290.1 53.5,298.3 55.0,306.6 56.5,314.8 58.1,319.4 59.6,323.0 60.6,324.0 61.6,326.1 62.6,326.5 63.6,328.1 64.6,328.0 65.6,329.6 66.6,329.9 67.6,329.8 68.6,329.5 69.6,330.8 70.6,331.3 71.6,330.8 72.6,331.2 73.6,330.9 74.6,331.4 75.7,330.9 76.7,330.9 77.7,331.8 78.7,332.7 79.7,332.2 80.7,332.1 81.7,332.9 82.7,332.1 83.7,332.9 84.7,332.9 85.7,332.5 86.7,332.0 87.7,332.1 88.7,332.3 89.7,332.2 90.7,332.8 91.7,332.4 92.8,332.7 93.8,332.3 94.8,333.6 95.8,332.7 96.8,332.9 97.8,333.2 98.8,333.8 99.8,333.0 100.8,333.9 101.8,333.3 102.8,333.3 103.9,333.4 104.9,333.3 106.0,332.5 107.0,333.2 108.0,332.8 109.1,332.5 110.1,333.9 111.1,332.8 112.2,333.4 113.2,333.8 114.2,333.5 115.3,333.2 116.3,333.5 117.4,333.6 118.4,333.5" fill="none" stroke="#6c6c6c" stroke-width="1.0" stroke-linejoin="round"/>
<polyline points="31.6,324.0 33.4,325.6 34.4,325.8 35.4,324.5 36.4,324.3 37.4,326.1 38.4,325.5 39.4,324.6 40.5,324.5 41.5,325.7 42.5,324.0 43.5,323.5 44.5,324.0 45.5,323.0 46.5,322.5 47.5,322.0 48.5,321.9 49.5,321.5 50.5,321.4 51.5,319.9 52.5,320.5 53.5,318.9 54.5,318.0 55.5,317.3 56.5,316.9 57.6,315.8 58.6,315.1 59.6,314.3 60.6,313.0 61.6,311.7 62.6,310.7 63.6,308.6 64.6,306.4 65.6,304.5 67.1,299.4 68.6,294.2 69.6,292.0 70.6,289.6 71.6,287.8 72.6,286.0 74.1,289.1 75.7,294.2 77.2,299.4 78.7,304.5 80.2,308.1 81.7,311.7 82.7,314.4 83.7,314.8 84.7,316.9 85.7,317.9 86.7,320.4 87.7,320.9 88.7,323.7 89.7,324.0 90.7,324.1 91.7,325.6 92.8,326.1 93.8,328.0 94.8,328.4 95.8,328.1 96.8,327.4 97.8,327.6 98.8,328.8 99.8,329.2 100.8,328.1 101.8,328.7 102.8,328.3 103.8,329.6 104.8,330.4 105.8,331.2 106.8,330.8 107.8,332.0 108.8,330.2 109.8,331.2 110.9,332.1 111.9,332.2 112.9,331.0 113.9,332.2 114.8,333.4 115.7,333.7 116.6,331.9 117.5,333.9 118.4,332.9" fill="none" stroke="#111" stroke-width="1.0" stroke-linejoin="round"/>
<line x1="118.5" y1="301" x2="118.5" y2="334.3" stroke="#111" stroke-width="1.3"/>
<line x1="31" y1="270.4" x2="119.4" y2="270.4" stroke="#333" stroke-width="1.1"/>
<line x1="118.9" y1="270.4" x2="118.9" y2="334.3" stroke="#333" stroke-width="1.1"/>
<line x1="31" y1="269.9" x2="31" y2="335.1" stroke="#000" stroke-width="2.0"/>
<line x1="30.1" y1="334.3" x2="119.4" y2="334.3" stroke="#000" stroke-width="1.45"/>
<line x1="26.6" y1="270.7" x2="31" y2="270.7" stroke="#000" stroke-width="0.95"/>
<line x1="27.6" y1="273.15" x2="31" y2="273.15" stroke="#000" stroke-width="0.95"/>
<line x1="27.6" y1="275.6" x2="31" y2="275.6" stroke="#000" stroke-width="0.95"/>
<line x1="27.6" y1="278.05" x2="31" y2="278.05" stroke="#000" stroke-width="0.95"/>
<line x1="27.6" y1="280.5" x2="31" y2="280.5" stroke="#000" stroke-width="0.95"/>
<line x1="26.6" y1="282.95" x2="31" y2="282.95" stroke="#000" stroke-width="0.95"/>
<line x1="27.6" y1="285.4" x2="31" y2="285.4" stroke="#000" stroke-width="0.95"/>
<line x1="27.6" y1="287.85" x2="31" y2="287.85" stroke="#000" stroke-width="0.95"/>
<line x1="27.6" y1="290.3" x2="31" y2="290.3" stroke="#000" stroke-width="0.95"/>
<line x1="27.6" y1="292.75" x2="31" y2="292.75" stroke="#000" stroke-width="0.95"/>
<line x1="26.6" y1="295.2" x2="31" y2="295.2" stroke="#000" stroke-width="0.95"/>
<line x1="27.6" y1="297.65" x2="31" y2="297.65" stroke="#000" stroke-width="0.95"/>
<line x1="27.6" y1="300.1" x2="31" y2="300.1" stroke="#000" stroke-width="0.95"/>
<line x1="27.6" y1="302.55" x2="31" y2="302.55" stroke="#000" stroke-width="0.95"/>
<line x1="27.6" y1="305.0" x2="31" y2="305.0" stroke="#000" stroke-width="0.95"/>
<line x1="26.6" y1="307.45" x2="31" y2="307.45" stroke="#000" stroke-width="0.95"/>
<line x1="27.6" y1="309.9" x2="31" y2="309.9" stroke="#000" stroke-width="0.95"/>
<line x1="27.6" y1="312.35" x2="31" y2="312.35" stroke="#000" stroke-width="0.95"/>
<line x1="27.6" y1="314.8" x2="31" y2="314.8" stroke="#000" stroke-width="0.95"/>
<line x1="27.6" y1="317.25" x2="31" y2="317.25" stroke="#000" stroke-width="0.95"/>
<line x1="26.6" y1="319.7" x2="31" y2="319.7" stroke="#000" stroke-width="0.95"/>
<line x1="27.6" y1="322.15" x2="31" y2="322.15" stroke="#000" stroke-width="0.95"/>
<line x1="27.6" y1="324.6" x2="31" y2="324.6" stroke="#000" stroke-width="0.95"/>
<line x1="27.6" y1="327.05" x2="31" y2="327.05" stroke="#000" stroke-width="0.95"/>
<line x1="27.6" y1="329.5" x2="31" y2="329.5" stroke="#000" stroke-width="0.95"/>
<line x1="26.6" y1="331.95" x2="31" y2="331.95" stroke="#000" stroke-width="0.95"/>
<line x1="31.0" y1="334.3" x2="31.0" y2="337.2" stroke="#000" stroke-width="1.1"/>
<line x1="37.62" y1="334.3" x2="37.62" y2="336.3" stroke="#000" stroke-width="1.1"/>
<line x1="41.48" y1="334.3" x2="41.48" y2="336.3" stroke="#000" stroke-width="1.1"/>
<line x1="44.23" y1="334.3" x2="44.23" y2="336.3" stroke="#000" stroke-width="1.1"/>
<line x1="46.36" y1="334.3" x2="46.36" y2="336.3" stroke="#000" stroke-width="1.1"/>
<line x1="48.1" y1="334.3" x2="48.1" y2="336.3" stroke="#000" stroke-width="1.1"/>
<line x1="49.57" y1="334.3" x2="49.57" y2="336.3" stroke="#000" stroke-width="1.1"/>
<line x1="50.85" y1="334.3" x2="50.85" y2="336.3" stroke="#000" stroke-width="1.1"/>
<line x1="51.97" y1="334.3" x2="51.97" y2="336.3" stroke="#000" stroke-width="1.1"/>
<line x1="52.98" y1="334.3" x2="52.98" y2="337.2" stroke="#000" stroke-width="1.1"/>
<line x1="59.59" y1="334.3" x2="59.59" y2="336.3" stroke="#000" stroke-width="1.1"/>
<line x1="63.46" y1="334.3" x2="63.46" y2="336.3" stroke="#000" stroke-width="1.1"/>
<line x1="66.21" y1="334.3" x2="66.21" y2="336.3" stroke="#000" stroke-width="1.1"/>
<line x1="68.33" y1="334.3" x2="68.33" y2="336.3" stroke="#000" stroke-width="1.1"/>
<line x1="70.07" y1="334.3" x2="70.07" y2="336.3" stroke="#000" stroke-width="1.1"/>
<line x1="71.55" y1="334.3" x2="71.55" y2="336.3" stroke="#000" stroke-width="1.1"/>
<line x1="72.82" y1="334.3" x2="72.82" y2="336.3" stroke="#000" stroke-width="1.1"/>
<line x1="73.94" y1="334.3" x2="73.94" y2="336.3" stroke="#000" stroke-width="1.1"/>
<line x1="74.95" y1="334.3" x2="74.95" y2="337.2" stroke="#000" stroke-width="1.1"/>
<line x1="81.57" y1="334.3" x2="81.57" y2="336.3" stroke="#000" stroke-width="1.1"/>
<line x1="85.43" y1="334.3" x2="85.43" y2="336.3" stroke="#000" stroke-width="1.1"/>
<line x1="88.18" y1="334.3" x2="88.18" y2="336.3" stroke="#000" stroke-width="1.1"/>
<line x1="90.31" y1="334.3" x2="90.31" y2="336.3" stroke="#000" stroke-width="1.1"/>
<line x1="92.05" y1="334.3" x2="92.05" y2="336.3" stroke="#000" stroke-width="1.1"/>
<line x1="93.52" y1="334.3" x2="93.52" y2="336.3" stroke="#000" stroke-width="1.1"/>
<line x1="94.8" y1="334.3" x2="94.8" y2="336.3" stroke="#000" stroke-width="1.1"/>
<line x1="95.92" y1="334.3" x2="95.92" y2="336.3" stroke="#000" stroke-width="1.1"/>
<line x1="96.93" y1="334.3" x2="96.93" y2="337.2" stroke="#000" stroke-width="1.1"/>
<line x1="103.54" y1="334.3" x2="103.54" y2="336.3" stroke="#000" stroke-width="1.1"/>
<line x1="107.41" y1="334.3" x2="107.41" y2="336.3" stroke="#000" stroke-width="1.1"/>
<line x1="110.16" y1="334.3" x2="110.16" y2="336.3" stroke="#000" stroke-width="1.1"/>
<line x1="112.28" y1="334.3" x2="112.28" y2="336.3" stroke="#000" stroke-width="1.1"/>
<line x1="114.02" y1="334.3" x2="114.02" y2="336.3" stroke="#000" stroke-width="1.1"/>
<line x1="115.5" y1="334.3" x2="115.5" y2="336.3" stroke="#000" stroke-width="1.1"/>
<line x1="116.77" y1="334.3" x2="116.77" y2="336.3" stroke="#000" stroke-width="1.1"/>
<line x1="117.89" y1="334.3" x2="117.89" y2="336.3" stroke="#000" stroke-width="1.1"/>
<line x1="118.9" y1="334.3" x2="118.9" y2="337.2" stroke="#000" stroke-width="0.9"/>
<text class="s" x="25.4" y="345.8" font-size="8.8" text-anchor="start" fill="#000" stroke="#000" stroke-width="0.2" textLength="7.4" lengthAdjust="spacingAndGlyphs">10</text>
<text class="s" x="33.3" y="342.1" font-size="7.6" text-anchor="start" fill="#000" stroke="#000" stroke-width="0.2">0</text>
<text class="s" x="47.4" y="345.8" font-size="8.8" text-anchor="start" fill="#000" stroke="#000" stroke-width="0.2" textLength="7.4" lengthAdjust="spacingAndGlyphs">10</text>
<text class="s" x="55.3" y="342.1" font-size="7.6" text-anchor="start" fill="#000" stroke="#000" stroke-width="0.2">1</text>
<text class="s" x="69.4" y="345.8" font-size="8.8" text-anchor="start" fill="#000" stroke="#000" stroke-width="0.2" textLength="7.4" lengthAdjust="spacingAndGlyphs">10</text>
<text class="s" x="77.3" y="342.1" font-size="7.6" text-anchor="start" fill="#000" stroke="#000" stroke-width="0.2">2</text>
<text class="s" x="91.3" y="345.8" font-size="8.8" text-anchor="start" fill="#000" stroke="#000" stroke-width="0.2" textLength="7.4" lengthAdjust="spacingAndGlyphs">10</text>
<text class="s" x="99.2" y="342.1" font-size="7.6" text-anchor="start" fill="#000" stroke="#000" stroke-width="0.2">3</text>
<text class="s" x="112.5" y="345.8" font-size="8.8" text-anchor="start" fill="#000" stroke="#000" stroke-width="0.2" textLength="7.4" lengthAdjust="spacingAndGlyphs">10</text>
<text class="s" x="120.4" y="342.1" font-size="7.6" text-anchor="start" fill="#000" stroke="#000" stroke-width="0.2">4</text>
<text class="s" x="23.9" y="271.3" font-size="7.4" text-anchor="middle" fill="#000" transform="rotate(-90 23.9 271.3)" stroke="#000" stroke-width="0.2">50</text>
<text class="s" x="23.9" y="333.0" font-size="7.4" text-anchor="middle" fill="#000" transform="rotate(-90 23.9 333.0)" stroke="#000" stroke-width="0.2">0</text>
<line x1="54.2" y1="281.6" x2="103.8" y2="281.6" stroke="#1a1a1a" stroke-width="1.1"/>
<line x1="54.2" y1="274.90000000000003" x2="54.2" y2="288.3" stroke="#1a1a1a" stroke-width="1.1"/>
<line x1="103.8" y1="274.90000000000003" x2="103.8" y2="288.3" stroke="#1a1a1a" stroke-width="1.1"/>
<text class="s" x="79" y="279.8" font-size="11.0" text-anchor="middle" fill="#000">74 %</text>
<text class="s" x="76.5" y="357.6" font-size="10.8" text-anchor="middle" fill="#111">CXCR4</text>
<text class="s" x="10.6" y="299.9" font-size="10.7" text-anchor="middle" fill="#111" transform="rotate(-90 10.6 299.9)" textLength="59" lengthAdjust="spacingAndGlyphs">counts (a.u.)</text>
<polyline points="150.9,300.3 152.3,295.2 153.3,290.1 154.3,293.1 155.3,295.2 156.3,289.0 157.3,285.9 158.3,289.0 159.3,282.9 160.3,280.8 161.8,283.4 163.3,282.9 164.3,279.8 165.3,272.6 166.1,283.9 166.9,294.2 168.3,302.4 169.3,308.6 170.3,311.5 171.3,314.8 172.3,317.3 173.3,319.9 174.3,322.5 175.3,323.5 176.3,325.3 177.3,326.1 178.3,326.0 179.3,327.0 180.3,327.6 181.3,328.1 182.3,328.2 183.3,328.3 184.3,328.9 185.3,329.6 186.3,330.1 187.3,329.2 188.3,330.3 189.3,330.3 190.3,329.8 191.3,330.8 192.3,330.7 193.3,331.3 194.3,331.2 195.3,330.6 196.3,332.3 197.3,331.6 198.3,332.2 199.3,332.6 200.3,331.3 201.3,331.7 202.3,331.5 203.3,332.8 204.3,332.1 205.3,332.0 206.3,332.6 207.3,333.5 208.3,333.4 209.3,332.6 210.3,332.6 211.3,333.3 212.3,334.0 213.3,333.4 214.4,333.6 215.4,332.6 216.4,332.6 217.4,333.6 218.4,333.2 219.5,332.6 220.5,334.1 221.5,333.6 222.5,333.9 223.5,332.7 224.6,334.0 225.6,332.7 226.6,334.0 227.6,333.3 228.6,333.1 229.6,333.5 230.7,334.1 231.7,333.0 232.7,332.8 233.7,333.5 234.7,333.0 235.8,332.8 236.8,332.9 237.8,333.5" fill="none" stroke="#6c6c6c" stroke-width="1.0" stroke-linejoin="round"/>
<polyline points="150.9,322.0 152.3,324.0 153.3,325.0 154.3,324.0 155.3,324.5 156.3,324.9 157.3,325.5 158.3,324.9 159.3,325.9 160.3,324.6 161.3,325.0 162.3,323.0 163.3,322.0 164.3,322.0 165.3,321.3 166.3,321.7 167.3,322.2 168.3,320.9 169.3,321.4 170.3,320.8 171.3,322.0 172.3,321.5 173.3,319.9 174.3,319.0 175.3,317.8 176.3,315.8 177.3,315.3 178.3,313.9 179.3,312.7 180.3,312.7 181.3,310.6 182.3,308.1 183.3,307.5 184.8,303.4 186.3,299.3 187.8,294.2 188.8,292.4 189.7,289.0 191.3,291.1 192.3,291.9 193.3,293.1 194.8,298.3 196.3,303.4 197.8,308.1 199.3,311.7 200.3,313.7 201.3,315.8 202.3,318.1 203.3,318.9 204.3,320.1 205.3,322.0 206.3,323.0 207.3,324.0 208.3,325.2 209.3,326.6 210.3,326.1 211.3,326.2 212.3,327.8 213.3,327.5 214.3,328.4 215.3,328.7 216.3,328.5 217.3,329.2 218.3,329.0 219.3,328.6 220.3,329.0 221.3,330.2 222.3,329.4 223.3,331.3 224.3,330.4 225.3,331.2 226.3,330.6 227.3,330.7 228.3,332.8 229.3,332.2 230.2,333.3 231.2,332.9 232.1,332.0 233.1,332.1 234.0,332.3 235.0,332.8 235.9,332.2 236.9,333.0 237.8,333.3" fill="none" stroke="#111" stroke-width="1.0" stroke-linejoin="round"/>
<line x1="236.0" y1="318" x2="236.0" y2="334.3" stroke="#111" stroke-width="1.3"/>
<line x1="148" y1="270.3" x2="237.0" y2="270.3" stroke="#333" stroke-width="1.1"/>
<line x1="236.5" y1="270.3" x2="236.5" y2="334.3" stroke="#333" stroke-width="1.1"/>
<line x1="148" y1="269.8" x2="148" y2="335.1" stroke="#000" stroke-width="2.0"/>
<line x1="147.1" y1="334.3" x2="237.0" y2="334.3" stroke="#000" stroke-width="1.45"/>
<line x1="143.6" y1="270.6" x2="148" y2="270.6" stroke="#000" stroke-width="0.95"/>
<line x1="144.6" y1="273.05" x2="148" y2="273.05" stroke="#000" stroke-width="0.95"/>
<line x1="144.6" y1="275.5" x2="148" y2="275.5" stroke="#000" stroke-width="0.95"/>
<line x1="144.6" y1="277.95" x2="148" y2="277.95" stroke="#000" stroke-width="0.95"/>
<line x1="144.6" y1="280.4" x2="148" y2="280.4" stroke="#000" stroke-width="0.95"/>
<line x1="143.6" y1="282.85" x2="148" y2="282.85" stroke="#000" stroke-width="0.95"/>
<line x1="144.6" y1="285.3" x2="148" y2="285.3" stroke="#000" stroke-width="0.95"/>
<line x1="144.6" y1="287.75" x2="148" y2="287.75" stroke="#000" stroke-width="0.95"/>
<line x1="144.6" y1="290.2" x2="148" y2="290.2" stroke="#000" stroke-width="0.95"/>
<line x1="144.6" y1="292.65" x2="148" y2="292.65" stroke="#000" stroke-width="0.95"/>
<line x1="143.6" y1="295.1" x2="148" y2="295.1" stroke="#000" stroke-width="0.95"/>
<line x1="144.6" y1="297.55" x2="148" y2="297.55" stroke="#000" stroke-width="0.95"/>
<line x1="144.6" y1="300.0" x2="148" y2="300.0" stroke="#000" stroke-width="0.95"/>
<line x1="144.6" y1="302.45" x2="148" y2="302.45" stroke="#000" stroke-width="0.95"/>
<line x1="144.6" y1="304.9" x2="148" y2="304.9" stroke="#000" stroke-width="0.95"/>
<line x1="143.6" y1="307.35" x2="148" y2="307.35" stroke="#000" stroke-width="0.95"/>
<line x1="144.6" y1="309.8" x2="148" y2="309.8" stroke="#000" stroke-width="0.95"/>
<line x1="144.6" y1="312.25" x2="148" y2="312.25" stroke="#000" stroke-width="0.95"/>
<line x1="144.6" y1="314.7" x2="148" y2="314.7" stroke="#000" stroke-width="0.95"/>
<line x1="144.6" y1="317.15" x2="148" y2="317.15" stroke="#000" stroke-width="0.95"/>
<line x1="143.6" y1="319.6" x2="148" y2="319.6" stroke="#000" stroke-width="0.95"/>
<line x1="144.6" y1="322.05" x2="148" y2="322.05" stroke="#000" stroke-width="0.95"/>
<line x1="144.6" y1="324.5" x2="148" y2="324.5" stroke="#000" stroke-width="0.95"/>
<line x1="144.6" y1="326.95" x2="148" y2="326.95" stroke="#000" stroke-width="0.95"/>
<line x1="144.6" y1="329.4" x2="148" y2="329.4" stroke="#000" stroke-width="0.95"/>
<line x1="143.6" y1="331.85" x2="148" y2="331.85" stroke="#000" stroke-width="0.95"/>
<line x1="148.0" y1="334.3" x2="148.0" y2="337.2" stroke="#000" stroke-width="1.1"/>
<line x1="154.66" y1="334.3" x2="154.66" y2="336.3" stroke="#000" stroke-width="1.1"/>
<line x1="158.56" y1="334.3" x2="158.56" y2="336.3" stroke="#000" stroke-width="1.1"/>
<line x1="161.32" y1="334.3" x2="161.32" y2="336.3" stroke="#000" stroke-width="1.1"/>
<line x1="163.46" y1="334.3" x2="163.46" y2="336.3" stroke="#000" stroke-width="1.1"/>
<line x1="165.22" y1="334.3" x2="165.22" y2="336.3" stroke="#000" stroke-width="1.1"/>
<line x1="166.7" y1="334.3" x2="166.7" y2="336.3" stroke="#000" stroke-width="1.1"/>
<line x1="167.98" y1="334.3" x2="167.98" y2="336.3" stroke="#000" stroke-width="1.1"/>
<line x1="169.11" y1="334.3" x2="169.11" y2="336.3" stroke="#000" stroke-width="1.1"/>
<line x1="170.12" y1="334.3" x2="170.12" y2="337.2" stroke="#000" stroke-width="1.1"/>
<line x1="176.79" y1="334.3" x2="176.79" y2="336.3" stroke="#000" stroke-width="1.1"/>
<line x1="180.68" y1="334.3" x2="180.68" y2="336.3" stroke="#000" stroke-width="1.1"/>
<line x1="183.45" y1="334.3" x2="183.45" y2="336.3" stroke="#000" stroke-width="1.1"/>
<line x1="185.59" y1="334.3" x2="185.59" y2="336.3" stroke="#000" stroke-width="1.1"/>
<line x1="187.34" y1="334.3" x2="187.34" y2="336.3" stroke="#000" stroke-width="1.1"/>
<line x1="188.82" y1="334.3" x2="188.82" y2="336.3" stroke="#000" stroke-width="1.1"/>
<line x1="190.11" y1="334.3" x2="190.11" y2="336.3" stroke="#000" stroke-width="1.1"/>
<line x1="191.24" y1="334.3" x2="191.24" y2="336.3" stroke="#000" stroke-width="1.1"/>
<line x1="192.25" y1="334.3" x2="192.25" y2="337.2" stroke="#000" stroke-width="1.1"/>
<line x1="198.91" y1="334.3" x2="198.91" y2="336.3" stroke="#000" stroke-width="1.1"/>
<line x1="202.81" y1="334.3" x2="202.81" y2="336.3" stroke="#000" stroke-width="1.1"/>
<line x1="205.57" y1="334.3" x2="205.57" y2="336.3" stroke="#000" stroke-width="1.1"/>
<line x1="207.71" y1="334.3" x2="207.71" y2="336.3" stroke="#000" stroke-width="1.1"/>
<line x1="209.47" y1="334.3" x2="209.47" y2="336.3" stroke="#000" stroke-width="1.1"/>
<line x1="210.95" y1="334.3" x2="210.95" y2="336.3" stroke="#000" stroke-width="1.1"/>
<line x1="212.23" y1="334.3" x2="212.23" y2="336.3" stroke="#000" stroke-width="1.1"/>
<line x1="213.36" y1="334.3" x2="213.36" y2="336.3" stroke="#000" stroke-width="1.1"/>
<line x1="214.38" y1="334.3" x2="214.38" y2="337.2" stroke="#000" stroke-width="1.1"/>
<line x1="221.04" y1="334.3" x2="221.04" y2="336.3" stroke="#000" stroke-width="1.1"/>
<line x1="224.93" y1="334.3" x2="224.93" y2="336.3" stroke="#000" stroke-width="1.1"/>
<line x1="227.7" y1="334.3" x2="227.7" y2="336.3" stroke="#000" stroke-width="1.1"/>
<line x1="229.84" y1="334.3" x2="229.84" y2="336.3" stroke="#000" stroke-width="1.1"/>
<line x1="231.59" y1="334.3" x2="231.59" y2="336.3" stroke="#000" stroke-width="1.1"/>
<line x1="233.07" y1="334.3" x2="233.07" y2="336.3" stroke="#000" stroke-width="1.1"/>
<line x1="234.36" y1="334.3" x2="234.36" y2="336.3" stroke="#000" stroke-width="1.1"/>
<line x1="235.49" y1="334.3" x2="235.49" y2="336.3" stroke="#000" stroke-width="1.1"/>
<line x1="236.5" y1="334.3" x2="236.5" y2="337.2" stroke="#000" stroke-width="0.9"/>
<text class="s" x="142.4" y="345.8" font-size="8.8" text-anchor="start" fill="#000" stroke="#000" stroke-width="0.2" textLength="7.4" lengthAdjust="spacingAndGlyphs">10</text>
<text class="s" x="150.3" y="342.1" font-size="7.6" text-anchor="start" fill="#000" stroke="#000" stroke-width="0.2">0</text>
<text class="s" x="164.5" y="345.8" font-size="8.8" text-anchor="start" fill="#000" stroke="#000" stroke-width="0.2" textLength="7.4" lengthAdjust="spacingAndGlyphs">10</text>
<text class="s" x="172.4" y="342.1" font-size="7.6" text-anchor="start" fill="#000" stroke="#000" stroke-width="0.2">1</text>
<text class="s" x="186.7" y="345.8" font-size="8.8" text-anchor="start" fill="#000" stroke="#000" stroke-width="0.2" textLength="7.4" lengthAdjust="spacingAndGlyphs">10</text>
<text class="s" x="194.6" y="342.1" font-size="7.6" text-anchor="start" fill="#000" stroke="#000" stroke-width="0.2">2</text>
<text class="s" x="208.8" y="345.8" font-size="8.8" text-anchor="start" fill="#000" stroke="#000" stroke-width="0.2" textLength="7.4" lengthAdjust="spacingAndGlyphs">10</text>
<text class="s" x="216.7" y="342.1" font-size="7.6" text-anchor="start" fill="#000" stroke="#000" stroke-width="0.2">3</text>
<text class="s" x="230.1" y="345.8" font-size="8.8" text-anchor="start" fill="#000" stroke="#000" stroke-width="0.2" textLength="7.4" lengthAdjust="spacingAndGlyphs">10</text>
<text class="s" x="238.0" y="342.1" font-size="7.6" text-anchor="start" fill="#000" stroke="#000" stroke-width="0.2">4</text>
<text class="s" x="140.9" y="271.2" font-size="7.4" text-anchor="middle" fill="#000" transform="rotate(-90 140.9 271.2)" stroke="#000" stroke-width="0.2">50</text>
<text class="s" x="140.9" y="333.0" font-size="7.4" text-anchor="middle" fill="#000" transform="rotate(-90 140.9 333.0)" stroke="#000" stroke-width="0.2">0</text>
<line x1="172" y1="281.6" x2="220.6" y2="281.6" stroke="#1a1a1a" stroke-width="1.1"/>
<line x1="172" y1="274.90000000000003" x2="172" y2="288.3" stroke="#1a1a1a" stroke-width="1.1"/>
<line x1="220.6" y1="274.90000000000003" x2="220.6" y2="288.3" stroke="#1a1a1a" stroke-width="1.1"/>
<text class="s" x="196" y="279.8" font-size="11.0" text-anchor="middle" fill="#000">72 %</text>
<text class="s" x="192.9" y="357.6" font-size="10.8" text-anchor="middle" fill="#111">CXCR4</text>
<polyline points="314.1,52.4 315.5,49.3 316.6,47.3 318.1,42.1 319.6,34.9 320.6,39.1 321.2,41.1 322.7,39.1 323.7,43.2 324.7,48.3 325.7,53.4 326.7,58.6 328.3,65.8 329.8,74.0 330.8,74.9 331.8,76.5 332.9,78.0 333.9,78.1 334.9,80.9 335.9,82.2 336.9,83.8 337.9,85.3 339.0,86.7 340.0,88.9 341.0,90.9 342.0,91.4 343.0,92.2 344.1,93.5 345.1,93.8 346.1,94.5 347.1,94.1 348.1,95.0 349.1,95.5 350.2,95.6 351.2,95.8 352.2,96.0 353.2,95.6 354.2,96.1 355.3,95.4 356.3,95.9 357.3,95.7 358.3,96.3 359.3,95.8 360.4,96.6 361.4,95.8 362.4,96.3 363.5,96.2 364.5,96.7 365.5,96.6 366.6,97.0 367.6,96.9 368.6,96.9 369.7,97.2 370.7,96.5 371.7,96.4 372.8,97.4 373.8,96.1 374.8,97.0 375.9,96.9 376.9,96.0 377.9,97.2 379.0,97.3 380.0,96.9 381.0,97.0 382.1,97.2 383.1,96.1 384.1,96.7 385.2,96.7 386.2,97.2 387.2,97.2 388.3,97.2 389.3,96.8 390.3,97.3 391.4,97.0 392.4,97.0 393.4,96.3 394.5,96.0 395.5,96.2 396.6,96.5 397.6,96.2 398.6,97.3 399.7,96.9 400.7,96.8" fill="none" stroke="#6c6c6c" stroke-width="1.0" stroke-linejoin="round"/>
<polyline points="314.1,74.0 315.5,75.0 316.6,74.0 318.1,70.9 319.6,68.8 320.6,68.6 321.6,67.8 322.7,67.1 323.7,65.8 325.2,63.7 326.7,60.6 327.8,56.5 328.8,52.4 330.2,48.3 331.4,46.2 332.9,47.8 333.9,49.3 334.9,52.4 335.9,56.5 336.9,60.6 337.9,64.7 339.0,68.8 340.0,72.9 341.0,74.9 342.0,76.0 343.0,77.0 344.1,78.1 345.1,77.9 346.1,80.1 347.1,81.9 348.1,82.2 349.1,84.1 350.2,84.8 351.2,86.1 352.2,87.3 353.2,88.7 354.2,89.9 355.3,91.6 356.3,92.5 357.3,92.2 358.3,94.1 359.3,95.2 360.4,95.1 361.4,94.9 362.4,94.8 363.4,96.2 364.4,95.7 365.4,97.0 366.5,96.6 367.4,95.9 368.3,97.2 369.2,97.8 370.2,96.6 371.1,96.3 372.0,96.6 372.9,97.1 373.9,97.3 374.8,96.9 375.7,97.0 376.6,95.6 377.6,95.8 378.5,96.0 379.4,97.3 380.3,96.2 381.3,96.8 382.2,95.5 383.1,95.6 384.0,96.1 385.0,97.1 385.9,97.2 386.8,97.1 387.7,96.2 388.7,96.7 389.6,96.6 390.5,96.6 391.4,95.8 392.4,97.7 393.3,96.0 394.2,97.9 395.1,97.8 396.1,95.6 397.0,96.7 397.9,97.6 398.8,97.9 399.8,96.6 400.7,96.8" fill="none" stroke="#111" stroke-width="1.0" stroke-linejoin="round"/>
<line x1="314.4" y1="40" x2="314.4" y2="97.6" stroke="#111" stroke-width="1.3"/>
<line x1="313.5" y1="33.3" x2="401.8" y2="33.3" stroke="#333" stroke-width="1.1"/>
<line x1="401.3" y1="33.3" x2="401.3" y2="97.6" stroke="#333" stroke-width="1.1"/>
<line x1="313.5" y1="32.8" x2="313.5" y2="98.39999999999999" stroke="#000" stroke-width="2.0"/>
<line x1="312.6" y1="97.6" x2="401.8" y2="97.6" stroke="#000" stroke-width="1.45"/>
<line x1="309.1" y1="33.6" x2="313.5" y2="33.6" stroke="#000" stroke-width="0.95"/>
<line x1="310.1" y1="36.05" x2="313.5" y2="36.05" stroke="#000" stroke-width="0.95"/>
<line x1="310.1" y1="38.5" x2="313.5" y2="38.5" stroke="#000" stroke-width="0.95"/>
<line x1="310.1" y1="40.95" x2="313.5" y2="40.95" stroke="#000" stroke-width="0.95"/>
<line x1="310.1" y1="43.4" x2="313.5" y2="43.4" stroke="#000" stroke-width="0.95"/>
<line x1="309.1" y1="45.85" x2="313.5" y2="45.85" stroke="#000" stroke-width="0.95"/>
<line x1="310.1" y1="48.3" x2="313.5" y2="48.3" stroke="#000" stroke-width="0.95"/>
<line x1="310.1" y1="50.75" x2="313.5" y2="50.75" stroke="#000" stroke-width="0.95"/>
<line x1="310.1" y1="53.2" x2="313.5" y2="53.2" stroke="#000" stroke-width="0.95"/>
<line x1="310.1" y1="55.65" x2="313.5" y2="55.65" stroke="#000" stroke-width="0.95"/>
<line x1="309.1" y1="58.1" x2="313.5" y2="58.1" stroke="#000" stroke-width="0.95"/>
<line x1="310.1" y1="60.55" x2="313.5" y2="60.55" stroke="#000" stroke-width="0.95"/>
<line x1="310.1" y1="63.0" x2="313.5" y2="63.0" stroke="#000" stroke-width="0.95"/>
<line x1="310.1" y1="65.45" x2="313.5" y2="65.45" stroke="#000" stroke-width="0.95"/>
<line x1="310.1" y1="67.9" x2="313.5" y2="67.9" stroke="#000" stroke-width="0.95"/>
<line x1="309.1" y1="70.35" x2="313.5" y2="70.35" stroke="#000" stroke-width="0.95"/>
<line x1="310.1" y1="72.8" x2="313.5" y2="72.8" stroke="#000" stroke-width="0.95"/>
<line x1="310.1" y1="75.25" x2="313.5" y2="75.25" stroke="#000" stroke-width="0.95"/>
<line x1="310.1" y1="77.7" x2="313.5" y2="77.7" stroke="#000" stroke-width="0.95"/>
<line x1="310.1" y1="80.15" x2="313.5" y2="80.15" stroke="#000" stroke-width="0.95"/>
<line x1="309.1" y1="82.6" x2="313.5" y2="82.6" stroke="#000" stroke-width="0.95"/>
<line x1="310.1" y1="85.05" x2="313.5" y2="85.05" stroke="#000" stroke-width="0.95"/>
<line x1="310.1" y1="87.5" x2="313.5" y2="87.5" stroke="#000" stroke-width="0.95"/>
<line x1="310.1" y1="89.95" x2="313.5" y2="89.95" stroke="#000" stroke-width="0.95"/>
<line x1="310.1" y1="92.4" x2="313.5" y2="92.4" stroke="#000" stroke-width="0.95"/>
<line x1="309.1" y1="94.85" x2="313.5" y2="94.85" stroke="#000" stroke-width="0.95"/>
<line x1="313.5" y1="97.6" x2="313.5" y2="100.5" stroke="#000" stroke-width="1.1"/>
<line x1="320.11" y1="97.6" x2="320.11" y2="99.6" stroke="#000" stroke-width="1.1"/>
<line x1="323.97" y1="97.6" x2="323.97" y2="99.6" stroke="#000" stroke-width="1.1"/>
<line x1="326.72" y1="97.6" x2="326.72" y2="99.6" stroke="#000" stroke-width="1.1"/>
<line x1="328.84" y1="97.6" x2="328.84" y2="99.6" stroke="#000" stroke-width="1.1"/>
<line x1="330.58" y1="97.6" x2="330.58" y2="99.6" stroke="#000" stroke-width="1.1"/>
<line x1="332.05" y1="97.6" x2="332.05" y2="99.6" stroke="#000" stroke-width="1.1"/>
<line x1="333.32" y1="97.6" x2="333.32" y2="99.6" stroke="#000" stroke-width="1.1"/>
<line x1="334.45" y1="97.6" x2="334.45" y2="99.6" stroke="#000" stroke-width="1.1"/>
<line x1="335.45" y1="97.6" x2="335.45" y2="100.5" stroke="#000" stroke-width="1.1"/>
<line x1="342.06" y1="97.6" x2="342.06" y2="99.6" stroke="#000" stroke-width="1.1"/>
<line x1="345.92" y1="97.6" x2="345.92" y2="99.6" stroke="#000" stroke-width="1.1"/>
<line x1="348.67" y1="97.6" x2="348.67" y2="99.6" stroke="#000" stroke-width="1.1"/>
<line x1="350.79" y1="97.6" x2="350.79" y2="99.6" stroke="#000" stroke-width="1.1"/>
<line x1="352.53" y1="97.6" x2="352.53" y2="99.6" stroke="#000" stroke-width="1.1"/>
<line x1="354.0" y1="97.6" x2="354.0" y2="99.6" stroke="#000" stroke-width="1.1"/>
<line x1="355.27" y1="97.6" x2="355.27" y2="99.6" stroke="#000" stroke-width="1.1"/>
<line x1="356.4" y1="97.6" x2="356.4" y2="99.6" stroke="#000" stroke-width="1.1"/>
<line x1="357.4" y1="97.6" x2="357.4" y2="100.5" stroke="#000" stroke-width="1.1"/>
<line x1="364.01" y1="97.6" x2="364.01" y2="99.6" stroke="#000" stroke-width="1.1"/>
<line x1="367.87" y1="97.6" x2="367.87" y2="99.6" stroke="#000" stroke-width="1.1"/>
<line x1="370.62" y1="97.6" x2="370.62" y2="99.6" stroke="#000" stroke-width="1.1"/>
<line x1="372.74" y1="97.6" x2="372.74" y2="99.6" stroke="#000" stroke-width="1.1"/>
<line x1="374.48" y1="97.6" x2="374.48" y2="99.6" stroke="#000" stroke-width="1.1"/>
<line x1="375.95" y1="97.6" x2="375.95" y2="99.6" stroke="#000" stroke-width="1.1"/>
<line x1="377.22" y1="97.6" x2="377.22" y2="99.6" stroke="#000" stroke-width="1.1"/>
<line x1="378.35" y1="97.6" x2="378.35" y2="99.6" stroke="#000" stroke-width="1.1"/>
<line x1="379.35" y1="97.6" x2="379.35" y2="100.5" stroke="#000" stroke-width="1.1"/>
<line x1="385.96" y1="97.6" x2="385.96" y2="99.6" stroke="#000" stroke-width="1.1"/>
<line x1="389.82" y1="97.6" x2="389.82" y2="99.6" stroke="#000" stroke-width="1.1"/>
<line x1="392.57" y1="97.6" x2="392.57" y2="99.6" stroke="#000" stroke-width="1.1"/>
<line x1="394.69" y1="97.6" x2="394.69" y2="99.6" stroke="#000" stroke-width="1.1"/>
<line x1="396.43" y1="97.6" x2="396.43" y2="99.6" stroke="#000" stroke-width="1.1"/>
<line x1="397.9" y1="97.6" x2="397.9" y2="99.6" stroke="#000" stroke-width="1.1"/>
<line x1="399.17" y1="97.6" x2="399.17" y2="99.6" stroke="#000" stroke-width="1.1"/>
<line x1="400.3" y1="97.6" x2="400.3" y2="99.6" stroke="#000" stroke-width="1.1"/>
<line x1="401.3" y1="97.6" x2="401.3" y2="100.5" stroke="#000" stroke-width="0.9"/>
<text class="s" x="307.9" y="109.1" font-size="8.8" text-anchor="start" fill="#000" stroke="#000" stroke-width="0.2" textLength="7.4" lengthAdjust="spacingAndGlyphs">10</text>
<text class="s" x="315.8" y="105.4" font-size="7.6" text-anchor="start" fill="#000" stroke="#000" stroke-width="0.2">0</text>
<text class="s" x="329.8" y="109.1" font-size="8.8" text-anchor="start" fill="#000" stroke="#000" stroke-width="0.2" textLength="7.4" lengthAdjust="spacingAndGlyphs">10</text>
<text class="s" x="337.7" y="105.4" font-size="7.6" text-anchor="start" fill="#000" stroke="#000" stroke-width="0.2">1</text>
<text class="s" x="351.8" y="109.1" font-size="8.8" text-anchor="start" fill="#000" stroke="#000" stroke-width="0.2" textLength="7.4" lengthAdjust="spacingAndGlyphs">10</text>
<text class="s" x="359.7" y="105.4" font-size="7.6" text-anchor="start" fill="#000" stroke="#000" stroke-width="0.2">2</text>
<text class="s" x="373.8" y="109.1" font-size="8.8" text-anchor="start" fill="#000" stroke="#000" stroke-width="0.2" textLength="7.4" lengthAdjust="spacingAndGlyphs">10</text>
<text class="s" x="381.6" y="105.4" font-size="7.6" text-anchor="start" fill="#000" stroke="#000" stroke-width="0.2">3</text>
<text class="s" x="394.9" y="109.1" font-size="8.8" text-anchor="start" fill="#000" stroke="#000" stroke-width="0.2" textLength="7.4" lengthAdjust="spacingAndGlyphs">10</text>
<text class="s" x="402.8" y="105.4" font-size="7.6" text-anchor="start" fill="#000" stroke="#000" stroke-width="0.2">4</text>
<text class="s" x="306.4" y="34.2" font-size="7.4" text-anchor="middle" fill="#000" transform="rotate(-90 306.4 34.2)" stroke="#000" stroke-width="0.2">50</text>
<text class="s" x="306.4" y="96.3" font-size="7.4" text-anchor="middle" fill="#000" transform="rotate(-90 306.4 96.3)" stroke="#000" stroke-width="0.2">0</text>
<line x1="327.6" y1="43.6" x2="361" y2="43.6" stroke="#1a1a1a" stroke-width="1.1"/>
<line x1="327.6" y1="36.9" x2="327.6" y2="50.300000000000004" stroke="#1a1a1a" stroke-width="1.1"/>
<line x1="361" y1="36.9" x2="361" y2="50.300000000000004" stroke="#1a1a1a" stroke-width="1.1"/>
<text class="s" x="346.4" y="43.3" font-size="11.0" text-anchor="middle" fill="#000">56 %</text>
<text class="s" x="359.1" y="120.9" font-size="10.55" text-anchor="middle" fill="#111">P-Selectin</text>
<text class="s" x="295.0" y="62.9" font-size="10.7" text-anchor="middle" fill="#111" transform="rotate(-90 295.0 62.9)" textLength="59" lengthAdjust="spacingAndGlyphs">counts (a.u.)</text>
<polyline points="426.9,46.2 428.3,48.3 429.3,47.3 430.4,45.2 431.4,42.1 433.0,38.0 433.8,42.1 434.4,44.2 435.8,43.2 436.6,47.3 437.4,52.4 439.0,58.6 440.5,64.7 442.0,69.9 443.5,75.0 445.0,78.1 446.6,80.1 447.6,78.6 448.6,77.1 450.1,81.2 451.6,85.3 453.1,88.4 454.7,91.4 455.7,92.1 456.7,93.5 457.7,93.6 458.7,94.5 459.7,95.6 460.7,94.9 461.7,95.8 462.8,96.1 463.8,95.6 464.8,96.4 465.8,96.6 466.8,97.3 467.9,96.0 468.9,97.1 469.9,96.6 470.9,97.2 472.0,96.9 473.0,96.2 474.0,97.2 475.1,96.6 476.1,95.9 477.1,95.9 478.2,96.6 479.2,96.6 480.2,96.3 481.3,96.1 482.3,96.4 483.3,96.4 484.3,97.2 485.4,95.9 486.4,97.0 487.4,97.2 488.5,96.1 489.5,97.3 490.5,97.0 491.6,97.3 492.6,96.4 493.6,96.5 494.6,96.5 495.7,97.5 496.7,96.8 497.7,96.5 498.8,96.6 499.8,96.4 500.8,96.0 501.9,96.1 502.9,97.2 503.9,96.4 504.9,97.4 506.0,96.4 507.0,96.4 508.0,96.8 509.1,96.3 510.1,96.6 511.1,97.5 512.2,97.4 513.2,96.8" fill="none" stroke="#6c6c6c" stroke-width="1.0" stroke-linejoin="round"/>
<polyline points="426.9,76.0 428.3,71.9 429.3,69.9 430.4,67.8 431.9,69.4 433.4,68.8 434.4,65.8 435.4,62.7 436.9,59.6 438.5,56.5 439.5,53.4 440.5,50.4 441.5,52.4 442.5,53.4 443.9,46.2 444.7,50.4 445.5,53.4 446.6,52.9 447.6,52.4 448.6,58.6 449.6,64.7 451.1,67.8 452.6,69.9 454.2,72.9 455.7,76.0 457.2,78.1 458.7,80.1 460.2,82.7 461.7,85.3 463.3,87.8 464.8,90.4 466.3,92.1 467.8,93.5 468.8,94.7 469.8,94.5 470.9,95.3 471.9,95.5 472.9,96.7 473.9,97.0 474.9,96.2 475.9,96.4 476.9,96.9 477.9,96.6 478.9,95.6 479.8,97.1 480.7,96.5 481.7,97.2 482.6,96.9 483.5,96.1 484.4,95.6 485.4,97.6 486.3,95.8 487.2,96.6 488.2,96.3 489.1,96.2 490.0,97.2 490.9,97.7 491.9,96.1 492.8,97.0 493.7,96.2 494.6,96.8 495.6,96.4 496.5,95.9 497.4,95.9 498.4,96.0 499.3,97.6 500.2,96.7 501.1,96.1 502.1,97.6 503.0,97.8 503.9,96.6 504.8,95.9 505.8,96.0 506.7,95.8 507.6,96.4 508.6,95.8 509.5,96.2 510.4,96.2 511.3,96.9 512.3,97.6 513.2,96.8" fill="none" stroke="#111" stroke-width="1.0" stroke-linejoin="round"/>
<line x1="427.2" y1="42" x2="427.2" y2="97.6" stroke="#111" stroke-width="1.3"/>
<line x1="426.3" y1="33.3" x2="514.3" y2="33.3" stroke="#333" stroke-width="1.1"/>
<line x1="513.8" y1="33.3" x2="513.8" y2="97.6" stroke="#333" stroke-width="1.1"/>
<line x1="426.3" y1="32.8" x2="426.3" y2="98.39999999999999" stroke="#000" stroke-width="2.0"/>
<line x1="425.40000000000003" y1="97.6" x2="514.3" y2="97.6" stroke="#000" stroke-width="1.45"/>
<line x1="421.9" y1="33.6" x2="426.3" y2="33.6" stroke="#000" stroke-width="0.95"/>
<line x1="422.9" y1="36.05" x2="426.3" y2="36.05" stroke="#000" stroke-width="0.95"/>
<line x1="422.9" y1="38.5" x2="426.3" y2="38.5" stroke="#000" stroke-width="0.95"/>
<line x1="422.9" y1="40.95" x2="426.3" y2="40.95" stroke="#000" stroke-width="0.95"/>
<line x1="422.9" y1="43.4" x2="426.3" y2="43.4" stroke="#000" stroke-width="0.95"/>
<line x1="421.9" y1="45.85" x2="426.3" y2="45.85" stroke="#000" stroke-width="0.95"/>
<line x1="422.9" y1="48.3" x2="426.3" y2="48.3" stroke="#000" stroke-width="0.95"/>
<line x1="422.9" y1="50.75" x2="426.3" y2="50.75" stroke="#000" stroke-width="0.95"/>
<line x1="422.9" y1="53.2" x2="426.3" y2="53.2" stroke="#000" stroke-width="0.95"/>
<line x1="422.9" y1="55.65" x2="426.3" y2="55.65" stroke="#000" stroke-width="0.95"/>
<line x1="421.9" y1="58.1" x2="426.3" y2="58.1" stroke="#000" stroke-width="0.95"/>
<line x1="422.9" y1="60.55" x2="426.3" y2="60.55" stroke="#000" stroke-width="0.95"/>
<line x1="422.9" y1="63.0" x2="426.3" y2="63.0" stroke="#000" stroke-width="0.95"/>
<line x1="422.9" y1="65.45" x2="426.3" y2="65.45" stroke="#000" stroke-width="0.95"/>
<line x1="422.9" y1="67.9" x2="426.3" y2="67.9" stroke="#000" stroke-width="0.95"/>
<line x1="421.9" y1="70.35" x2="426.3" y2="70.35" stroke="#000" stroke-width="0.95"/>
<line x1="422.9" y1="72.8" x2="426.3" y2="72.8" stroke="#000" stroke-width="0.95"/>
<line x1="422.9" y1="75.25" x2="426.3" y2="75.25" stroke="#000" stroke-width="0.95"/>
<line x1="422.9" y1="77.7" x2="426.3" y2="77.7" stroke="#000" stroke-width="0.95"/>
<line x1="422.9" y1="80.15" x2="426.3" y2="80.15" stroke="#000" stroke-width="0.95"/>
<line x1="421.9" y1="82.6" x2="426.3" y2="82.6" stroke="#000" stroke-width="0.95"/>
<line x1="422.9" y1="85.05" x2="426.3" y2="85.05" stroke="#000" stroke-width="0.95"/>
<line x1="422.9" y1="87.5" x2="426.3" y2="87.5" stroke="#000" stroke-width="0.95"/>
<line x1="422.9" y1="89.95" x2="426.3" y2="89.95" stroke="#000" stroke-width="0.95"/>
<line x1="422.9" y1="92.4" x2="426.3" y2="92.4" stroke="#000" stroke-width="0.95"/>
<line x1="421.9" y1="94.85" x2="426.3" y2="94.85" stroke="#000" stroke-width="0.95"/>
<line x1="426.3" y1="97.6" x2="426.3" y2="100.5" stroke="#000" stroke-width="1.1"/>
<line x1="432.89" y1="97.6" x2="432.89" y2="99.6" stroke="#000" stroke-width="1.1"/>
<line x1="436.74" y1="97.6" x2="436.74" y2="99.6" stroke="#000" stroke-width="1.1"/>
<line x1="439.47" y1="97.6" x2="439.47" y2="99.6" stroke="#000" stroke-width="1.1"/>
<line x1="441.59" y1="97.6" x2="441.59" y2="99.6" stroke="#000" stroke-width="1.1"/>
<line x1="443.32" y1="97.6" x2="443.32" y2="99.6" stroke="#000" stroke-width="1.1"/>
<line x1="444.79" y1="97.6" x2="444.79" y2="99.6" stroke="#000" stroke-width="1.1"/>
<line x1="446.06" y1="97.6" x2="446.06" y2="99.6" stroke="#000" stroke-width="1.1"/>
<line x1="447.17" y1="97.6" x2="447.17" y2="99.6" stroke="#000" stroke-width="1.1"/>
<line x1="448.18" y1="97.6" x2="448.18" y2="100.5" stroke="#000" stroke-width="1.1"/>
<line x1="454.76" y1="97.6" x2="454.76" y2="99.6" stroke="#000" stroke-width="1.1"/>
<line x1="458.61" y1="97.6" x2="458.61" y2="99.6" stroke="#000" stroke-width="1.1"/>
<line x1="461.35" y1="97.6" x2="461.35" y2="99.6" stroke="#000" stroke-width="1.1"/>
<line x1="463.46" y1="97.6" x2="463.46" y2="99.6" stroke="#000" stroke-width="1.1"/>
<line x1="465.2" y1="97.6" x2="465.2" y2="99.6" stroke="#000" stroke-width="1.1"/>
<line x1="466.66" y1="97.6" x2="466.66" y2="99.6" stroke="#000" stroke-width="1.1"/>
<line x1="467.93" y1="97.6" x2="467.93" y2="99.6" stroke="#000" stroke-width="1.1"/>
<line x1="469.05" y1="97.6" x2="469.05" y2="99.6" stroke="#000" stroke-width="1.1"/>
<line x1="470.05" y1="97.6" x2="470.05" y2="100.5" stroke="#000" stroke-width="1.1"/>
<line x1="476.64" y1="97.6" x2="476.64" y2="99.6" stroke="#000" stroke-width="1.1"/>
<line x1="480.49" y1="97.6" x2="480.49" y2="99.6" stroke="#000" stroke-width="1.1"/>
<line x1="483.22" y1="97.6" x2="483.22" y2="99.6" stroke="#000" stroke-width="1.1"/>
<line x1="485.34" y1="97.6" x2="485.34" y2="99.6" stroke="#000" stroke-width="1.1"/>
<line x1="487.07" y1="97.6" x2="487.07" y2="99.6" stroke="#000" stroke-width="1.1"/>
<line x1="488.54" y1="97.6" x2="488.54" y2="99.6" stroke="#000" stroke-width="1.1"/>
<line x1="489.81" y1="97.6" x2="489.81" y2="99.6" stroke="#000" stroke-width="1.1"/>
<line x1="490.92" y1="97.6" x2="490.92" y2="99.6" stroke="#000" stroke-width="1.1"/>
<line x1="491.92" y1="97.6" x2="491.92" y2="100.5" stroke="#000" stroke-width="1.1"/>
<line x1="498.51" y1="97.6" x2="498.51" y2="99.6" stroke="#000" stroke-width="1.1"/>
<line x1="502.36" y1="97.6" x2="502.36" y2="99.6" stroke="#000" stroke-width="1.1"/>
<line x1="505.1" y1="97.6" x2="505.1" y2="99.6" stroke="#000" stroke-width="1.1"/>
<line x1="507.21" y1="97.6" x2="507.21" y2="99.6" stroke="#000" stroke-width="1.1"/>
<line x1="508.95" y1="97.6" x2="508.95" y2="99.6" stroke="#000" stroke-width="1.1"/>
<line x1="510.41" y1="97.6" x2="510.41" y2="99.6" stroke="#000" stroke-width="1.1"/>
<line x1="511.68" y1="97.6" x2="511.68" y2="99.6" stroke="#000" stroke-width="1.1"/>
<line x1="512.8" y1="97.6" x2="512.8" y2="99.6" stroke="#000" stroke-width="1.1"/>
<line x1="513.8" y1="97.6" x2="513.8" y2="100.5" stroke="#000" stroke-width="0.9"/>
<text class="s" x="420.7" y="109.1" font-size="8.8" text-anchor="start" fill="#000" stroke="#000" stroke-width="0.2" textLength="7.4" lengthAdjust="spacingAndGlyphs">10</text>
<text class="s" x="428.6" y="105.4" font-size="7.6" text-anchor="start" fill="#000" stroke="#000" stroke-width="0.2">0</text>
<text class="s" x="442.6" y="109.1" font-size="8.8" text-anchor="start" fill="#000" stroke="#000" stroke-width="0.2" textLength="7.4" lengthAdjust="spacingAndGlyphs">10</text>
<text class="s" x="450.5" y="105.4" font-size="7.6" text-anchor="start" fill="#000" stroke="#000" stroke-width="0.2">1</text>
<text class="s" x="464.4" y="109.1" font-size="8.8" text-anchor="start" fill="#000" stroke="#000" stroke-width="0.2" textLength="7.4" lengthAdjust="spacingAndGlyphs">10</text>
<text class="s" x="472.3" y="105.4" font-size="7.6" text-anchor="start" fill="#000" stroke="#000" stroke-width="0.2">2</text>
<text class="s" x="486.3" y="109.1" font-size="8.8" text-anchor="start" fill="#000" stroke="#000" stroke-width="0.2" textLength="7.4" lengthAdjust="spacingAndGlyphs">10</text>
<text class="s" x="494.2" y="105.4" font-size="7.6" text-anchor="start" fill="#000" stroke="#000" stroke-width="0.2">3</text>
<text class="s" x="507.4" y="109.1" font-size="8.8" text-anchor="start" fill="#000" stroke="#000" stroke-width="0.2" textLength="7.4" lengthAdjust="spacingAndGlyphs">10</text>
<text class="s" x="515.3" y="105.4" font-size="7.6" text-anchor="start" fill="#000" stroke="#000" stroke-width="0.2">4</text>
<text class="s" x="419.2" y="34.2" font-size="7.4" text-anchor="middle" fill="#000" transform="rotate(-90 419.2 34.2)" stroke="#000" stroke-width="0.2">50</text>
<text class="s" x="419.2" y="96.3" font-size="7.4" text-anchor="middle" fill="#000" transform="rotate(-90 419.2 96.3)" stroke="#000" stroke-width="0.2">0</text>
<line x1="439.9" y1="43.5" x2="473.6" y2="43.5" stroke="#1a1a1a" stroke-width="1.1"/>
<line x1="439.9" y1="36.8" x2="439.9" y2="50.2" stroke="#1a1a1a" stroke-width="1.1"/>
<line x1="473.6" y1="36.8" x2="473.6" y2="50.2" stroke="#1a1a1a" stroke-width="1.1"/>
<text class="s" x="458.4" y="43.2" font-size="11.0" text-anchor="middle" fill="#000">54 %</text>
<text class="s" x="472.4" y="120.9" font-size="10.55" text-anchor="middle" fill="#111">P-Selectin</text>
<line x1="342.2" y1="142.9" x2="342.2" y2="254.20000000000002" stroke="#222" stroke-width="0.9"/>
<line x1="342.2" y1="253.8" x2="407.5" y2="253.8" stroke="#222" stroke-width="0.9"/>
<line x1="340.0" y1="143.3" x2="342.2" y2="143.3" stroke="#222" stroke-width="0.8"/>
<text class="s" x="337.4" y="147.7" font-size="11.0" text-anchor="end" fill="#000">2500</text>
<line x1="340.0" y1="165.4" x2="342.2" y2="165.4" stroke="#222" stroke-width="0.8"/>
<text class="s" x="337.4" y="169.8" font-size="11.0" text-anchor="end" fill="#000">2000</text>
<line x1="340.0" y1="187.5" x2="342.2" y2="187.5" stroke="#222" stroke-width="0.8"/>
<text class="s" x="337.4" y="191.9" font-size="11.0" text-anchor="end" fill="#000">1500</text>
<line x1="340.0" y1="209.6" x2="342.2" y2="209.6" stroke="#222" stroke-width="0.8"/>
<text class="s" x="337.4" y="214.0" font-size="11.0" text-anchor="end" fill="#000">1000</text>
<line x1="340.0" y1="231.7" x2="342.2" y2="231.7" stroke="#222" stroke-width="0.8"/>
<text class="s" x="337.4" y="236.1" font-size="11.0" text-anchor="end" fill="#000">500</text>
<line x1="340.0" y1="253.8" x2="342.2" y2="253.8" stroke="#222" stroke-width="0.8"/>
<text class="s" x="337.4" y="258.2" font-size="11.0" text-anchor="end" fill="#000">0</text>
<rect x="356.3" y="158.3" width="18.4" height="95.5" fill="#999" stroke="#222" stroke-width="0.9"/>
<rect x="374.7" y="163.8" width="19.2" height="90.0" fill="#fff" stroke="#222" stroke-width="0.9"/>
<line x1="365.4" y1="158.3" x2="365.4" y2="152.4" stroke="#222" stroke-width="0.9"/>
<line x1="362.7" y1="152.4" x2="368.2" y2="152.4" stroke="#222" stroke-width="0.9"/>
<line x1="384.9" y1="163.8" x2="384.9" y2="159.2" stroke="#222" stroke-width="0.9"/>
<line x1="382.2" y1="159.2" x2="387.7" y2="159.2" stroke="#222" stroke-width="0.9"/>
<text class="s" x="307.8" y="199.7" font-size="10.8" text-anchor="middle" fill="#000" transform="rotate(-90 307.8 199.7)" textLength="115.4" lengthAdjust="spacingAndGlyphs">Functional platelet count</text>
<rect x="420.4" y="163.5" width="6.8" height="6.6" fill="#8f8f8f" stroke="#333" stroke-width="0.9"/>
<rect x="420.4" y="177.9" width="6.8" height="6.6" fill="#fff" stroke="#555" stroke-width="0.9"/>
<text class="s" x="433.0" y="170.4" font-size="10.45" fill="#000">PECAM-1<tspan font-size="6.8" dx="0.8" dy="-2.6">+/+</tspan></text>
<text class="s" x="433.0" y="184.8" font-size="10.45" fill="#000">PECAM-1<tspan font-size="6.8" dx="0.8" dy="-2.6">-/-</tspan></text>
<rect x="448.4" y="274.9" width="6.8" height="6.6" fill="#8f8f8f" stroke="#333" stroke-width="0.9"/>
<rect x="448.4" y="289.3" width="6.8" height="6.6" fill="#fff" stroke="#555" stroke-width="0.9"/>
<text class="s" x="460.6" y="281.8" font-size="10.45" fill="#000">PECAM-1<tspan font-size="6.8" dx="0.8" dy="-2.6">+/+</tspan></text>
<text class="s" x="460.6" y="296.2" font-size="10.45" fill="#000">PECAM-1<tspan font-size="6.8" dx="0.8" dy="-2.6">-/-</tspan></text>
<line x1="442.0" y1="300.70000000000005" x2="442.0" y2="389.29999999999995" stroke="#222" stroke-width="0.9"/>
<line x1="442.0" y1="388.9" x2="507" y2="388.9" stroke="#222" stroke-width="0.9"/>
<line x1="439.8" y1="301.1" x2="442.0" y2="301.1" stroke="#222" stroke-width="0.8"/>
<line x1="440.2" y1="312.1" x2="442.0" y2="312.1" stroke="#333" stroke-width="0.7"/>
<text class="s" x="439.2" y="305.3" font-size="11.0" text-anchor="end" fill="#000">16</text>
<line x1="439.8" y1="323.1" x2="442.0" y2="323.1" stroke="#222" stroke-width="0.8"/>
<line x1="440.2" y1="334.0" x2="442.0" y2="334.0" stroke="#333" stroke-width="0.7"/>
<text class="s" x="439.2" y="327.2" font-size="11.0" text-anchor="end" fill="#000">12</text>
<line x1="439.8" y1="345.0" x2="442.0" y2="345.0" stroke="#222" stroke-width="0.8"/>
<line x1="440.2" y1="356.0" x2="442.0" y2="356.0" stroke="#333" stroke-width="0.7"/>
<text class="s" x="439.2" y="349.2" font-size="11.0" text-anchor="end" fill="#000">8</text>
<line x1="439.8" y1="367.0" x2="442.0" y2="367.0" stroke="#222" stroke-width="0.8"/>
<line x1="440.2" y1="377.9" x2="442.0" y2="377.9" stroke="#333" stroke-width="0.7"/>
<text class="s" x="439.2" y="371.2" font-size="11.0" text-anchor="end" fill="#000">4</text>
<line x1="439.8" y1="388.9" x2="442.0" y2="388.9" stroke="#222" stroke-width="0.8"/>
<text class="s" x="439.2" y="393.1" font-size="11.0" text-anchor="end" fill="#000">0</text>
<rect x="455.9" y="309.4" width="18.9" height="79.5" fill="#999" stroke="#222" stroke-width="0.9"/>
<rect x="474.8" y="316.3" width="19.4" height="72.6" fill="#fff" stroke="#222" stroke-width="0.9"/>
<line x1="466.1" y1="309.4" x2="466.1" y2="304.2" stroke="#222" stroke-width="0.9"/>
<line x1="463.2" y1="304.2" x2="469.0" y2="304.2" stroke="#222" stroke-width="0.9"/>
<line x1="484.6" y1="316.3" x2="484.6" y2="312.4" stroke="#222" stroke-width="0.9"/>
<line x1="481.9" y1="312.4" x2="487.2" y2="312.4" stroke="#222" stroke-width="0.9"/>
<text class="s" x="410.6" y="338.4" font-size="10.9" text-anchor="middle" fill="#000" transform="rotate(-90 410.6 338.4)" textLength="85" lengthAdjust="spacingAndGlyphs">% of MKs forming</text>
<text class="s" x="423.4" y="339.1" font-size="10.9" text-anchor="middle" fill="#000" transform="rotate(-90 423.4 339.1)" textLength="55.2" lengthAdjust="spacingAndGlyphs">proplatelets</text>
<defs>
<clipPath id="mc"><rect x="292" y="288" width="99.2" height="95.8"/></clipPath>
<filter id="bl03" x="-10%" y="-10%" width="120%" height="120%"><feGaussianBlur stdDeviation="0.35"/></filter>
<filter id="bl05" x="-10%" y="-10%" width="120%" height="120%"><feGaussianBlur stdDeviation="0.5"/></filter>
<filter id="bl1" x="-20%" y="-20%" width="140%" height="140%"><feGaussianBlur stdDeviation="1.0"/></filter>
<filter id="bl2" x="-30%" y="-30%" width="160%" height="160%"><feGaussianBlur stdDeviation="2.4"/></filter>
<filter id="tex" x="0" y="0" width="100%" height="100%">
<feTurbulence type="fractalNoise" baseFrequency="0.42" numOctaves="2" seed="11" result="n"/>
<feColorMatrix in="n" type="matrix" values="0 0 0 0 1  0 0 0 0 1  0 0 0 0 1  3.4 0 0 0 -1.45" result="a"/>
<feComposite in="a" in2="SourceGraphic" operator="in"/>
<feGaussianBlur stdDeviation="0.35"/>
</filter>
<filter id="texd" x="0" y="0" width="100%" height="100%">
<feTurbulence type="fractalNoise" baseFrequency="0.36" numOctaves="2" seed="23" result="n"/>
<feColorMatrix in="n" type="matrix" values="0 0 0 0 0  0 0 0 0 0  0 0 0 0 0  3.0 0 0 0 -1.35" result="a"/>
<feComposite in="a" in2="SourceGraphic" operator="in"/>
<feGaussianBlur stdDeviation="0.35"/>
</filter>
<filter id="texl" x="0" y="0" width="100%" height="100%">
<feTurbulence type="fractalNoise" baseFrequency="0.2" numOctaves="2" seed="5" result="n"/>
<feColorMatrix in="n" type="matrix" values="0 0 0 0 1  0 0 0 0 1  0 0 0 0 1  3.0 0 0 0 -1.4" result="a"/>
<feComposite in="a" in2="SourceGraphic" operator="in"/>
<feGaussianBlur stdDeviation="0.6"/>
</filter>
</defs>
<g clip-path="url(#mc)">
<rect x="291" y="287" width="102" height="98" fill="#040404"/>
<path d="M292 291 L295 292 L300 298 L305 305 L308.5 312 L309.5 316 L306 317 L300 312.5 L295 310 L292 309 Z" fill="#4a4a4a" filter="url(#bl1)"/>
<path d="M292 291 L295 292 L300 298 L305 305 L308.5 312 L309.5 316 L306 317 L300 312.5 L295 310 L292 309 Z" fill="#c8c8c8" filter="url(#texl)" opacity="0.75"/>
<path d="M292 289 L293.6 289 L294.6 300 L295 330 L297 350 L294 366 L292 366 Z" fill="#303030" filter="url(#bl1)"/>
<path d="M308 318 L316 324 L322 330 L318 331 L310 324 Z" fill="#222" filter="url(#bl1)"/>
<path d="M355.5 385 L356 373 L364 370 L368.4 367 L370.3 362 L372.3 358 L376 357.5 L381 356.5 L385 353.5 L392 351 L392 385 Z" fill="#3c3c3c" filter="url(#bl1)"/>
<path d="M355.5 385 L356 373 L364 370 L368.4 367 L370.3 362 L372.3 358 L376 357.5 L381 356.5 L385 353.5 L392 351 L392 385 Z" fill="#8c8c8c" filter="url(#texl)" opacity="0.4"/>
<path d="M360 372 L368 369 L372 362 L378 360 L380 366 L374 374 L364 378 Z" fill="#7a7a7a" opacity="0.5" filter="url(#bl2)"/>
<path d="M313.7 374.9 L316.4 373.6 L329.6 372.6 L335.8 373.2 L332.2 377.5 L328.3 384.5 L314.4 384.5 L313.1 378.9 Z" fill="#a4a4a4" filter="url(#bl05)"/>
<path d="M313.7 374.9 L316.4 373.6 L329.6 372.6 L335.8 373.2 L332.2 377.5 L328.3 384.5 L314.4 384.5 L313.1 378.9 Z" fill="#e8e8e8" filter="url(#tex)" opacity="0.25"/>
<path d="M306.5 305 L308.5 302 L311.6 300 L318 298 L325.6 298.7 L332 298 L336 297.4 L340.8 300 L345 302.3 L347.6 300.6 L352.7 300 L355.2 298.7 L355.9 305 L359 308.2 L361.2 308.6 L361.6 303.8 L363.5 306.3 L364.8 310.1 L367.3 310.8 L364.8 312 L363.5 316.5 L361 320.3 L360.3 324.1 L361.6 327.9 L365.4 332.4 L370.5 334.9 L378.1 335.8 L387.5 336.2 L389.6 340.6 L390.6 348.8 L384.9 349.8 L382.2 351.2 L378.3 352.6 L373.6 353.2 L372.0 357 L370.3 362.4 L368.4 368.3 L363.7 370.9 L357.2 372.3 L357.2 368.3 L351.9 367.6 L345.3 369 L340 371.6 L335.5 373.6 L329.6 372.9 L334.9 370.9 L336.8 367 L338.8 360.4 L338.2 353.8 L335.5 348.5 L335.5 340.6 L335.1 336 L333.2 330.5 L328.1 325.4 L321.8 322.2 L315.4 319 L310.3 315.2 L307.2 310.1 Z" fill="#9c9c9c" filter="url(#bl05)"/>
<clipPath id="cc"><path d="M306.5 305 L308.5 302 L311.6 300 L318 298 L325.6 298.7 L332 298 L336 297.4 L340.8 300 L345 302.3 L347.6 300.6 L352.7 300 L355.2 298.7 L355.9 305 L359 308.2 L361.2 308.6 L361.6 303.8 L363.5 306.3 L364.8 310.1 L367.3 310.8 L364.8 312 L363.5 316.5 L361 320.3 L360.3 324.1 L361.6 327.9 L365.4 332.4 L370.5 334.9 L378.1 335.8 L387.5 336.2 L389.6 340.6 L390.6 348.8 L384.9 349.8 L382.2 351.2 L378.3 352.6 L373.6 353.2 L372.0 357 L370.3 362.4 L368.4 368.3 L363.7 370.9 L357.2 372.3 L357.2 368.3 L351.9 367.6 L345.3 369 L340 371.6 L335.5 373.6 L329.6 372.9 L334.9 370.9 L336.8 367 L338.8 360.4 L338.2 353.8 L335.5 348.5 L335.5 340.6 L335.1 336 L333.2 330.5 L328.1 325.4 L321.8 322.2 L315.4 319 L310.3 315.2 L307.2 310.1 Z"/></clipPath>
<g clip-path="url(#cc)">
<path d="M324 303 L350 303 L357 312 L355 326 L362 337 L384 340 L380 347 L366 352 L362 366 L346 366 L341 352 L339 338 L333 326 L324 316 Z" fill="#fff" opacity="0.6" filter="url(#bl2)"/>
<ellipse cx="316" cy="308.8" rx="6.4" ry="5" fill="#555" opacity="0.8" filter="url(#bl1)"/>
<path d="M386 337 L391 338 L391 349 L385 349.5 Z" fill="#777" opacity="0.7" filter="url(#bl1)"/>
</g>
<path d="M306.5 305 L308.5 302 L311.6 300 L318 298 L325.6 298.7 L332 298 L336 297.4 L340.8 300 L345 302.3 L347.6 300.6 L352.7 300 L355.2 298.7 L355.9 305 L359 308.2 L361.2 308.6 L361.6 303.8 L363.5 306.3 L364.8 310.1 L367.3 310.8 L364.8 312 L363.5 316.5 L361 320.3 L360.3 324.1 L361.6 327.9 L365.4 332.4 L370.5 334.9 L378.1 335.8 L387.5 336.2 L389.6 340.6 L390.6 348.8 L384.9 349.8 L382.2 351.2 L378.3 352.6 L373.6 353.2 L372.0 357 L370.3 362.4 L368.4 368.3 L363.7 370.9 L357.2 372.3 L357.2 368.3 L351.9 367.6 L345.3 369 L340 371.6 L335.5 373.6 L329.6 372.9 L334.9 370.9 L336.8 367 L338.8 360.4 L338.2 353.8 L335.5 348.5 L335.5 340.6 L335.1 336 L333.2 330.5 L328.1 325.4 L321.8 322.2 L315.4 319 L310.3 315.2 L307.2 310.1 Z" fill="#fff" filter="url(#tex)" opacity="0.55"/>
<path d="M306.5 305 L308.5 302 L311.6 300 L318 298 L325.6 298.7 L332 298 L336 297.4 L340.8 300 L345 302.3 L347.6 300.6 L352.7 300 L355.2 298.7 L355.9 305 L359 308.2 L361.2 308.6 L361.6 303.8 L363.5 306.3 L364.8 310.1 L367.3 310.8 L364.8 312 L363.5 316.5 L361 320.3 L360.3 324.1 L361.6 327.9 L365.4 332.4 L370.5 334.9 L378.1 335.8 L387.5 336.2 L389.6 340.6 L390.6 348.8 L384.9 349.8 L382.2 351.2 L378.3 352.6 L373.6 353.2 L372.0 357 L370.3 362.4 L368.4 368.3 L363.7 370.9 L357.2 372.3 L357.2 368.3 L351.9 367.6 L345.3 369 L340 371.6 L335.5 373.6 L329.6 372.9 L334.9 370.9 L336.8 367 L338.8 360.4 L338.2 353.8 L335.5 348.5 L335.5 340.6 L335.1 336 L333.2 330.5 L328.1 325.4 L321.8 322.2 L315.4 319 L310.3 315.2 L307.2 310.1 Z" fill="#000" filter="url(#texd)" opacity="0.28"/>
<g fill="none" filter="url(#bl05)"><path d="M313.6 349.8 L334 346.6" stroke="#999" stroke-width="1.2"/><path d="M321 340 L333 344.8" stroke="#666" stroke-width="1.1"/><path d="M324.5 350 L335.5 349.2" stroke="#555" stroke-width="1.0"/><path d="M336.8 353.8 L331.6 365.7" stroke="#4a4a4a" stroke-width="1.8"/><path d="M319.5 335 L326 339" stroke="#444" stroke-width="1"/></g>
<g filter="url(#bl05)"><circle cx="312.7" cy="350.1" r="1.7" fill="#bdbdbd"/><circle cx="319" cy="334.6" r="1.2" fill="#aaa"/></g>
</g>
<text class="s" x="304.6" y="366.6" font-size="5.9" font-weight="bold" fill="#f4f4f4">pp</text>
<line x1="313.1" y1="364.1" x2="326.5" y2="359.5" stroke="#f4f4f4" stroke-width="0.9"/><polygon points="329.8,358.3 325.2,357.4 326.6,361.6" fill="#f4f4f4"/>
<line x1="311.1" y1="359.2" x2="313.6" y2="355.9" stroke="#f4f4f4" stroke-width="0.9"/><polygon points="315.3,353.5 311.4,355.6 314.6,358" fill="#f4f4f4"/>
<rect x="297.3" y="378.1" width="12.4" height="1.8" fill="#fff"/>
</svg></body></html>
